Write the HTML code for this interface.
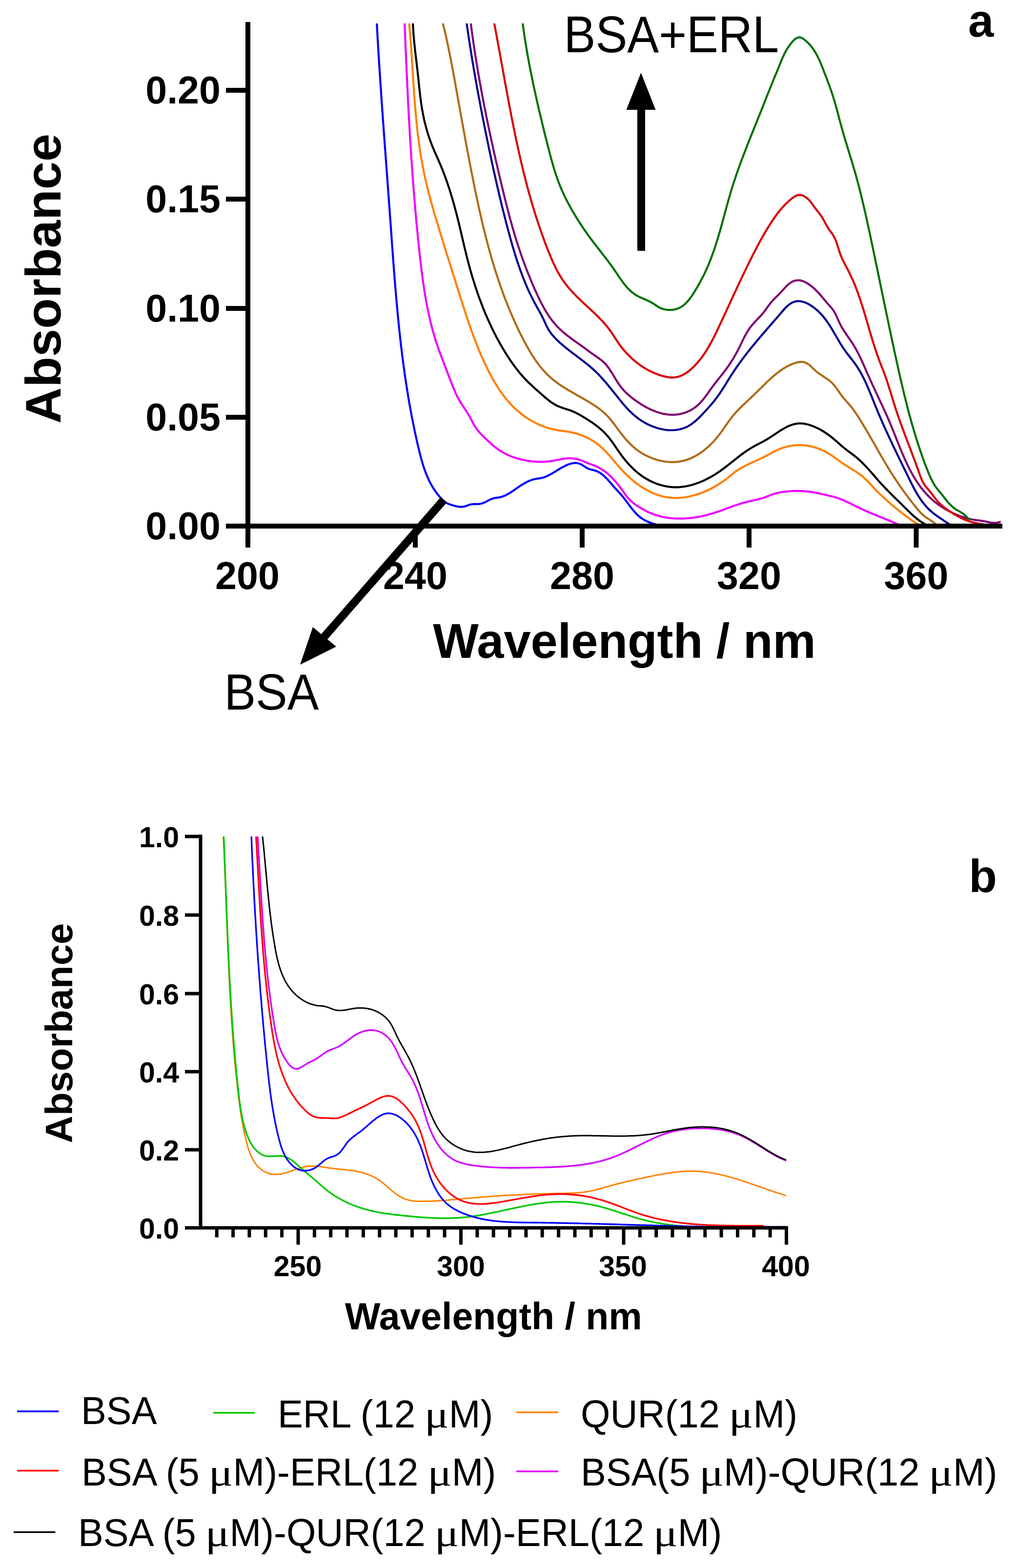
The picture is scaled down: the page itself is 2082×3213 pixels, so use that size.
<!DOCTYPE html>
<html><head><meta charset="utf-8"><title>Absorbance spectra</title>
<style>
html,body{margin:0;padding:0;background:#fff;}
body{width:2082px;height:3213px;overflow:hidden;}
svg{display:block;}
</style></head>
<body>
<svg width="2082" height="3213" viewBox="0 0 2082 3213">
<defs>
<clipPath id="clipa"><rect x="508" y="48" width="1546" height="1032"/></clipPath>
<clipPath id="clipb"><rect x="410" y="1714" width="1204" height="803"/></clipPath>
</defs>
<rect width="2082" height="3213" fill="#fff"/>
<g fill="none" stroke-width="4.2" stroke-linejoin="round" stroke-linecap="butt" clip-path="url(#clipa)">
<path d="M771.9 44.0 L772.2 49.0 L772.5 54.0 L772.8 59.0 L773.0 64.1 L773.3 69.1 L773.6 74.1 L773.9 79.1 L774.2 84.1 L774.5 89.1 L774.8 94.1 L775.1 99.1 L775.4 104.1 L775.7 109.2 L776.0 114.2 L776.3 119.2 L776.6 124.2 L776.9 129.2 L777.3 134.2 L777.6 139.2 L777.9 144.2 L778.2 149.2 L778.6 154.2 L778.9 159.2 L779.2 164.2 L779.6 169.3 L779.9 174.3 L780.2 179.3 L780.6 184.3 L780.9 189.3 L781.2 194.3 L781.6 199.3 L781.9 204.3 L782.3 209.3 L782.6 214.3 L783.0 219.3 L783.3 224.3 L783.7 229.3 L784.0 234.3 L784.4 239.3 L784.7 244.4 L785.1 249.4 L785.5 254.4 L785.8 259.4 L786.2 264.4 L786.5 269.4 L786.9 274.4 L787.3 279.4 L787.6 284.4 L788.0 289.4 L788.4 294.4 L788.7 299.4 L789.1 304.4 L789.5 309.4 L789.8 314.4 L790.2 319.4 L790.6 324.4 L790.9 329.4 L791.3 334.4 L791.7 339.4 L792.0 344.5 L792.4 349.5 L792.8 354.5 L793.2 359.5 L793.5 364.5 L793.9 369.5 L794.3 374.5 L794.6 379.5 L795.0 384.5 L795.4 389.5 L795.7 394.5 L796.1 399.5 L796.5 404.5 L796.8 409.5 L797.2 414.5 L797.6 419.5 L797.9 424.5 L798.3 429.5 L798.7 434.5 L799.0 439.6 L799.4 444.6 L799.7 449.6 L800.1 454.6 L800.5 459.6 L800.8 464.6 L801.2 469.6 L801.5 474.6 L801.9 479.6 L802.3 484.6 L802.6 489.6 L803.0 494.6 L803.3 499.6 L803.7 504.6 L804.1 509.6 L804.4 514.6 L804.8 519.6 L805.2 524.7 L805.5 529.7 L805.9 534.7 L806.3 539.7 L806.7 544.7 L807.0 549.7 L807.4 554.7 L807.8 559.7 L808.2 564.7 L808.6 569.7 L809.0 574.7 L809.4 579.7 L809.8 584.7 L810.2 589.7 L810.6 594.7 L811.1 599.7 L811.5 604.7 L811.9 609.7 L812.4 614.7 L812.8 619.7 L813.3 624.7 L813.7 629.7 L814.2 634.7 L814.7 639.7 L815.1 644.7 L815.6 649.7 L816.1 654.7 L816.6 659.7 L817.1 664.7 L817.6 669.6 L818.1 674.6 L818.7 679.6 L819.2 684.6 L819.7 689.6 L820.3 694.6 L820.9 699.6 L821.4 704.6 L822.0 709.5 L822.6 714.5 L823.2 719.5 L823.8 724.5 L824.4 729.5 L825.1 734.4 L825.7 739.4 L826.4 744.4 L827.0 749.4 L827.7 754.3 L828.4 759.3 L829.1 764.3 L829.8 769.2 L830.5 774.2 L831.3 779.2 L832.0 784.1 L832.8 789.1 L833.5 794.0 L834.3 799.0 L835.1 804.0 L835.9 808.9 L836.7 813.9 L837.6 818.8 L838.4 823.8 L839.3 828.7 L840.2 833.6 L841.1 838.6 L842.0 843.5 L842.9 848.5 L843.8 853.4 L844.8 858.3 L845.8 863.3 L846.8 868.2 L847.8 873.1 L848.8 878.0 L849.8 883.0 L850.8 887.9 L851.9 892.8 L853.0 897.7 L854.1 902.6 L855.2 907.5 L856.3 912.4 L857.5 917.4 L858.7 922.3 L859.9 927.1 L861.1 932.0 L862.4 936.9 L863.7 941.8 L865.1 946.6 L866.5 951.4 L868.0 956.2 L869.6 960.9 L871.3 965.6 L873.0 970.2 L874.9 974.9 L876.9 979.4 L878.9 983.9 L881.2 988.4 L883.5 992.8 L886.0 997.1 L888.6 1001.3 L891.4 1005.5 L894.3 1009.6 L897.4 1013.6 L900.6 1017.6 L904.1 1021.4 L907.7 1025.1 L911.6 1028.4 L915.7 1031.1 L920.2 1033.1 L924.8 1034.5 L929.6 1035.9 L934.4 1037.2 L939.3 1038.3 L944.2 1038.7 L949.0 1038.4 L953.7 1037.4 L958.2 1035.7 L962.8 1034.0 L967.6 1033.2 L972.5 1032.9 L977.5 1032.9 L982.4 1032.6 L987.2 1031.7 L991.9 1030.0 L996.4 1027.8 L1000.9 1025.4 L1005.4 1023.2 L1010.0 1021.4 L1014.9 1020.4 L1019.8 1019.7 L1024.6 1018.9 L1029.4 1017.6 L1033.9 1015.8 L1038.4 1013.7 L1042.8 1011.2 L1047.2 1008.5 L1051.4 1005.7 L1055.7 1002.7 L1060.0 999.8 L1064.2 996.8 L1068.5 994.0 L1072.9 991.3 L1077.3 988.8 L1081.8 986.5 L1086.3 984.6 L1091.0 982.9 L1095.8 981.7 L1100.7 980.8 L1105.7 980.1 L1110.5 979.2 L1115.2 977.8 L1119.8 976.1 L1124.2 974.0 L1128.5 971.7 L1132.8 969.3 L1137.1 966.7 L1141.4 964.0 L1145.7 961.4 L1150.1 958.7 L1154.7 956.3 L1159.3 954.0 L1164.1 951.9 L1169.0 950.2 L1174.0 949.1 L1178.8 948.6 L1183.5 949.0 L1187.9 950.2 L1192.2 952.4 L1196.5 955.0 L1200.7 957.8 L1205.2 960.2 L1210.0 962.0 L1215.1 963.1 L1219.9 964.4 L1224.5 966.2 L1228.8 968.6 L1232.9 971.3 L1236.7 974.4 L1240.4 977.8 L1244.0 981.4 L1247.4 985.1 L1250.7 989.0 L1254.0 992.9 L1257.3 996.7 L1260.6 1000.4 L1264.0 1004.0 L1267.3 1007.6 L1270.6 1011.1 L1273.9 1014.8 L1277.1 1018.7 L1280.2 1022.7 L1283.3 1026.8 L1286.4 1030.9 L1289.4 1035.1 L1292.6 1039.2 L1295.7 1043.3 L1299.0 1047.2 L1302.4 1051.0 L1305.9 1054.6 L1309.5 1057.9 L1313.3 1061.0 L1317.4 1063.7 L1321.6 1066.2 L1325.9 1068.4 L1330.4 1070.3 L1335.0 1072.0 L1339.8 1073.5 L1344.6 1074.8 L1349.6 1075.8 L1354.6 1076.7 L1359.6 1077.4 L1364.7 1078.0 L1369.9 1078.4 L1375.1 1078.8 L1380.2 1079.0 L1385.4 1079.1 L1390.5 1079.2 L1395.6 1079.2 L1400.6 1079.2 L1405.6 1079.1 L1410.5 1079.0 L1415.2 1079.0 L1419.9 1078.9" stroke="#0000ff"/>
<path d="M828.9 44.0 L829.1 49.0 L829.3 54.0 L829.6 59.1 L829.8 64.1 L830.0 69.1 L830.2 74.1 L830.4 79.1 L830.6 84.2 L830.8 89.2 L831.0 94.2 L831.2 99.2 L831.4 104.2 L831.7 109.3 L831.9 114.3 L832.1 119.3 L832.3 124.3 L832.5 129.3 L832.8 134.4 L833.0 139.4 L833.2 144.4 L833.4 149.4 L833.7 154.4 L833.9 159.4 L834.1 164.5 L834.4 169.5 L834.6 174.5 L834.8 179.5 L835.1 184.5 L835.3 189.5 L835.6 194.6 L835.8 199.6 L836.1 204.6 L836.3 209.6 L836.6 214.6 L836.8 219.6 L837.1 224.7 L837.4 229.7 L837.6 234.7 L837.9 239.7 L838.2 244.7 L838.5 249.7 L838.7 254.7 L839.0 259.8 L839.3 264.8 L839.6 269.8 L839.9 274.8 L840.2 279.8 L840.5 284.8 L840.8 289.8 L841.1 294.8 L841.4 299.9 L841.7 304.9 L842.0 309.9 L842.4 314.9 L842.7 319.9 L843.0 324.9 L843.4 329.9 L843.7 334.9 L844.1 339.9 L844.4 345.0 L844.8 350.0 L845.1 355.0 L845.5 360.0 L845.8 365.0 L846.2 370.0 L846.6 375.0 L847.0 380.0 L847.4 385.0 L847.8 390.0 L848.2 395.0 L848.6 400.0 L849.0 405.0 L849.4 410.1 L849.8 415.1 L850.2 420.1 L850.6 425.1 L851.1 430.1 L851.5 435.1 L852.0 440.1 L852.4 445.1 L852.9 450.1 L853.3 455.1 L853.8 460.1 L854.3 465.1 L854.8 470.1 L855.3 475.1 L855.8 480.1 L856.3 485.1 L856.8 490.1 L857.3 495.1 L857.8 500.1 L858.3 505.1 L858.8 510.1 L859.4 515.1 L859.9 520.1 L860.5 525.1 L861.0 530.1 L861.6 535.1 L862.2 540.1 L862.8 545.1 L863.4 550.1 L864.0 555.1 L864.6 560.1 L865.3 565.1 L866.0 570.1 L866.6 575.0 L867.3 580.0 L868.1 585.0 L868.8 589.9 L869.6 594.9 L870.4 599.9 L871.2 604.8 L872.0 609.8 L872.9 614.7 L873.8 619.6 L874.7 624.6 L875.7 629.5 L876.6 634.4 L877.7 639.3 L878.7 644.2 L879.8 649.1 L880.9 654.0 L882.1 658.9 L883.3 663.7 L884.5 668.6 L885.8 673.4 L887.1 678.3 L888.5 683.1 L889.9 687.9 L891.3 692.7 L892.8 697.5 L894.4 702.3 L896.0 707.0 L897.6 711.8 L899.3 716.5 L901.0 721.3 L902.7 726.0 L904.5 730.8 L906.3 735.5 L908.0 740.2 L909.9 744.9 L911.7 749.6 L913.5 754.3 L915.3 759.0 L917.1 763.7 L918.9 768.5 L920.7 773.2 L922.5 777.9 L924.3 782.6 L926.1 787.3 L927.9 791.9 L929.8 796.6 L931.8 801.2 L933.8 805.8 L936.0 810.3 L938.2 814.7 L940.6 819.1 L943.2 823.4 L945.8 827.7 L948.6 831.9 L951.4 836.1 L954.2 840.3 L957.0 844.5 L959.6 848.8 L962.1 853.2 L964.5 857.6 L966.8 862.1 L969.2 866.5 L971.6 870.8 L974.2 875.1 L977.0 879.2 L980.1 883.2 L983.3 887.0 L986.8 890.6 L990.3 894.2 L994.0 897.7 L997.6 901.2 L1001.3 904.6 L1005.0 908.0 L1008.8 911.3 L1012.6 914.6 L1016.5 917.7 L1020.5 920.6 L1024.7 923.4 L1028.9 926.1 L1033.3 928.5 L1037.7 930.8 L1042.3 932.9 L1046.9 934.9 L1051.7 936.7 L1056.5 938.3 L1061.3 939.8 L1066.2 941.1 L1071.1 942.3 L1076.1 943.3 L1081.0 944.2 L1086.0 944.9 L1091.0 945.5 L1096.0 945.9 L1100.9 946.2 L1105.9 946.3 L1110.9 946.3 L1115.8 946.1 L1120.8 945.7 L1125.8 945.3 L1130.7 944.6 L1135.7 943.8 L1140.6 942.8 L1145.6 941.8 L1150.5 940.8 L1155.5 940.0 L1160.4 939.4 L1165.4 939.1 L1170.3 939.1 L1175.1 939.5 L1179.9 940.2 L1184.7 941.3 L1189.4 942.8 L1194.1 944.6 L1198.7 946.5 L1203.4 948.5 L1208.1 950.4 L1212.8 952.1 L1217.5 953.8 L1222.1 955.7 L1226.5 957.9 L1230.8 960.3 L1234.9 962.9 L1239.0 965.7 L1242.9 968.7 L1246.7 971.9 L1250.3 975.2 L1253.9 978.7 L1257.4 982.4 L1260.7 986.1 L1264.0 990.0 L1267.2 993.9 L1270.3 997.9 L1273.4 1002.0 L1276.4 1006.1 L1279.3 1010.2 L1282.2 1014.3 L1285.2 1018.3 L1288.4 1022.1 L1291.8 1025.6 L1295.5 1028.9 L1299.4 1032.0 L1303.5 1034.9 L1307.7 1037.7 L1312.0 1040.4 L1316.3 1042.9 L1320.8 1045.4 L1325.3 1047.8 L1329.8 1049.9 L1334.5 1051.9 L1339.1 1053.7 L1343.9 1055.4 L1348.6 1056.8 L1353.5 1058.1 L1358.3 1059.2 L1363.2 1060.2 L1368.1 1061.0 L1373.1 1061.6 L1378.1 1062.1 L1383.1 1062.5 L1388.1 1062.7 L1393.1 1062.7 L1398.2 1062.7 L1403.2 1062.5 L1408.2 1062.1 L1413.3 1061.7 L1418.3 1061.1 L1423.4 1060.4 L1428.4 1059.6 L1433.4 1058.7 L1438.4 1057.7 L1443.3 1056.6 L1448.3 1055.3 L1453.2 1054.0 L1458.0 1052.7 L1462.9 1051.2 L1467.7 1049.6 L1472.4 1048.0 L1477.1 1046.4 L1481.9 1044.7 L1486.5 1042.9 L1491.2 1041.2 L1495.9 1039.5 L1500.6 1037.8 L1505.3 1036.1 L1510.0 1034.5 L1514.7 1032.9 L1519.5 1031.5 L1524.3 1030.1 L1529.2 1028.8 L1534.1 1027.6 L1539.0 1026.5 L1543.9 1025.4 L1548.8 1024.3 L1553.7 1023.1 L1558.6 1021.8 L1563.4 1020.4 L1568.2 1018.8 L1572.9 1017.0 L1577.5 1015.1 L1582.2 1013.4 L1586.9 1011.7 L1591.7 1010.4 L1596.5 1009.3 L1601.4 1008.5 L1606.4 1007.8 L1611.3 1007.2 L1616.4 1006.8 L1621.4 1006.5 L1626.4 1006.2 L1631.5 1006.1 L1636.5 1006.1 L1641.6 1006.2 L1646.6 1006.4 L1651.7 1006.8 L1656.7 1007.3 L1661.6 1007.9 L1666.6 1008.7 L1671.5 1009.6 L1676.3 1010.6 L1681.2 1011.7 L1686.1 1012.8 L1690.9 1013.9 L1695.8 1015.0 L1700.7 1016.1 L1705.5 1017.2 L1710.4 1018.5 L1715.1 1020.0 L1719.8 1021.7 L1724.4 1023.6 L1729.1 1025.5 L1733.6 1027.6 L1738.2 1029.7 L1742.7 1031.9 L1747.2 1034.1 L1751.8 1036.3 L1756.3 1038.5 L1760.8 1040.7 L1765.4 1042.8 L1770.0 1044.9 L1774.5 1047.0 L1779.1 1049.0 L1783.8 1051.0 L1788.4 1052.9 L1793.0 1054.8 L1797.7 1056.7 L1802.3 1058.6 L1807.0 1060.5 L1811.6 1062.4 L1816.3 1064.3 L1820.9 1066.2 L1825.5 1068.2 L1830.2 1070.1 L1834.8 1072.1 L1839.4 1074.2 L1843.9 1076.3 L1848.5 1078.4" stroke="#ee00ff"/>
<path d="M838.2 44.1 L838.6 49.1 L839.1 54.0 L839.5 59.0 L839.9 64.0 L840.3 69.0 L840.7 74.0 L841.1 78.9 L841.5 83.9 L841.9 88.9 L842.2 93.9 L842.6 98.9 L842.9 103.9 L843.2 108.9 L843.6 113.9 L843.9 119.0 L844.2 124.0 L844.6 129.0 L844.9 134.0 L845.2 139.0 L845.5 144.0 L845.8 149.1 L846.2 154.1 L846.5 159.1 L846.8 164.1 L847.1 169.1 L847.5 174.2 L847.8 179.2 L848.1 184.2 L848.5 189.2 L848.8 194.3 L849.2 199.3 L849.6 204.3 L850.0 209.3 L850.4 214.3 L850.8 219.4 L851.2 224.4 L851.6 229.4 L852.1 234.4 L852.5 239.4 L853.0 244.4 L853.5 249.4 L854.0 254.4 L854.5 259.4 L855.0 264.4 L855.6 269.4 L856.2 274.4 L856.8 279.4 L857.4 284.3 L858.0 289.3 L858.7 294.3 L859.4 299.3 L860.1 304.2 L860.9 309.2 L861.6 314.1 L862.4 319.1 L863.2 324.0 L864.1 329.0 L865.0 333.9 L865.9 338.8 L866.8 343.8 L867.8 348.7 L868.8 353.6 L869.8 358.5 L870.9 363.4 L872.0 368.3 L873.1 373.1 L874.3 378.0 L875.4 382.9 L876.7 387.8 L877.9 392.6 L879.1 397.5 L880.4 402.3 L881.7 407.2 L883.0 412.0 L884.4 416.8 L885.7 421.7 L887.1 426.5 L888.5 431.3 L889.9 436.2 L891.3 441.0 L892.7 445.8 L894.2 450.6 L895.6 455.4 L897.1 460.2 L898.5 465.0 L900.0 469.8 L901.5 474.6 L902.9 479.4 L904.4 484.2 L905.9 489.0 L907.4 493.8 L908.9 498.6 L910.3 503.4 L911.8 508.2 L913.3 513.0 L914.8 517.8 L916.3 522.5 L917.8 527.3 L919.3 532.1 L920.8 536.9 L922.3 541.7 L923.8 546.5 L925.3 551.3 L926.8 556.0 L928.3 560.8 L929.8 565.6 L931.3 570.4 L932.8 575.2 L934.3 580.0 L935.8 584.8 L937.3 589.5 L938.8 594.3 L940.3 599.1 L941.8 603.9 L943.4 608.7 L944.9 613.5 L946.4 618.3 L947.9 623.1 L949.5 627.9 L951.0 632.6 L952.6 637.4 L954.1 642.2 L955.7 647.0 L957.3 651.7 L958.9 656.5 L960.5 661.3 L962.1 666.0 L963.8 670.8 L965.5 675.5 L967.2 680.2 L968.9 684.9 L970.6 689.7 L972.4 694.4 L974.2 699.0 L976.0 703.7 L977.8 708.4 L979.7 713.0 L981.6 717.7 L983.6 722.3 L985.5 726.9 L987.5 731.5 L989.6 736.1 L991.7 740.7 L993.8 745.2 L996.0 749.8 L998.2 754.3 L1000.4 758.8 L1002.7 763.3 L1005.0 767.7 L1007.4 772.2 L1009.9 776.6 L1012.3 780.9 L1014.9 785.3 L1017.5 789.5 L1020.2 793.8 L1022.9 798.0 L1025.8 802.1 L1028.6 806.2 L1031.6 810.2 L1034.7 814.2 L1037.8 818.1 L1041.0 821.9 L1044.3 825.6 L1047.7 829.3 L1051.1 832.9 L1054.7 836.4 L1058.4 839.8 L1062.2 843.2 L1066.0 846.4 L1070.0 849.5 L1074.1 852.6 L1078.3 855.5 L1082.6 858.3 L1086.9 861.0 L1091.3 863.5 L1095.8 865.9 L1100.4 868.2 L1105.0 870.3 L1109.6 872.2 L1114.3 874.0 L1119.0 875.7 L1123.8 877.1 L1128.6 878.5 L1133.4 879.6 L1138.2 880.7 L1143.1 881.6 L1148.0 882.3 L1152.9 883.0 L1157.8 883.7 L1162.8 884.5 L1167.7 885.3 L1172.7 886.2 L1177.6 887.4 L1182.5 888.8 L1187.4 890.3 L1192.3 892.1 L1197.1 894.0 L1201.8 896.2 L1206.4 898.5 L1210.9 900.9 L1215.3 903.6 L1219.5 906.4 L1223.6 909.3 L1227.5 912.4 L1231.3 915.6 L1234.9 919.0 L1238.5 922.4 L1241.9 925.9 L1245.3 929.6 L1248.6 933.2 L1251.8 937.0 L1255.1 940.8 L1258.3 944.6 L1261.5 948.4 L1264.8 952.2 L1268.1 956.0 L1271.4 959.8 L1274.8 963.5 L1278.3 967.2 L1281.9 970.8 L1285.5 974.4 L1289.3 977.9 L1293.1 981.3 L1297.0 984.6 L1300.9 987.8 L1305.0 990.9 L1309.1 993.9 L1313.3 996.8 L1317.5 999.5 L1321.8 1002.1 L1326.2 1004.6 L1330.6 1006.9 L1335.1 1009.1 L1339.7 1011.1 L1344.3 1012.9 L1348.9 1014.5 L1353.6 1016.0 L1358.4 1017.2 L1363.2 1018.3 L1368.0 1019.1 L1372.9 1019.7 L1377.8 1020.1 L1382.8 1020.3 L1387.8 1020.3 L1392.8 1020.0 L1397.8 1019.6 L1402.8 1019.0 L1407.8 1018.2 L1412.8 1017.2 L1417.8 1016.1 L1422.8 1014.7 L1427.7 1013.3 L1432.7 1011.7 L1437.5 1009.9 L1442.4 1008.0 L1447.1 1006.0 L1451.8 1003.8 L1456.5 1001.5 L1461.1 999.2 L1465.6 996.7 L1470.0 994.1 L1474.3 991.4 L1478.5 988.6 L1482.6 985.8 L1486.6 982.9 L1490.5 979.9 L1494.3 976.9 L1497.9 973.8 L1501.6 970.8 L1505.3 967.8 L1509.2 965.0 L1513.2 962.3 L1517.4 959.8 L1521.7 957.4 L1526.1 955.1 L1530.6 952.8 L1535.2 950.7 L1539.8 948.5 L1544.5 946.4 L1549.2 944.3 L1553.9 942.1 L1558.5 939.9 L1563.2 937.7 L1567.8 935.3 L1572.3 932.9 L1576.8 930.5 L1581.3 928.1 L1585.7 925.7 L1590.3 923.5 L1594.8 921.4 L1599.4 919.5 L1604.1 917.8 L1608.9 916.3 L1613.7 915.0 L1618.5 914.0 L1623.4 913.1 L1628.4 912.5 L1633.3 912.2 L1638.3 912.0 L1643.3 912.1 L1648.2 912.5 L1653.2 913.1 L1658.2 913.9 L1663.1 914.9 L1668.0 916.2 L1672.9 917.7 L1677.7 919.4 L1682.4 921.4 L1687.0 923.4 L1691.6 925.7 L1696.0 928.1 L1700.3 930.7 L1704.5 933.4 L1708.6 936.3 L1712.6 939.2 L1716.6 942.1 L1720.6 945.0 L1724.6 947.9 L1728.8 950.7 L1733.0 953.4 L1737.2 956.0 L1741.5 958.7 L1745.8 961.3 L1750.1 964.0 L1754.3 966.7 L1758.5 969.6 L1762.5 972.5 L1766.5 975.5 L1770.3 978.7 L1773.9 982.1 L1777.5 985.6 L1781.0 989.2 L1784.4 992.8 L1787.8 996.5 L1791.3 1000.2 L1794.7 1003.8 L1798.3 1007.4 L1801.8 1010.9 L1805.4 1014.4 L1809.1 1017.9 L1812.8 1021.3 L1816.5 1024.7 L1820.2 1028.0 L1824.0 1031.3 L1827.9 1034.6 L1831.7 1037.8 L1835.6 1041.0 L1839.5 1044.2 L1843.4 1047.3 L1847.4 1050.4 L1851.3 1053.5 L1855.3 1056.5 L1859.3 1059.6 L1863.4 1062.5 L1867.4 1065.5 L1871.5 1068.3 L1875.7 1071.1 L1879.9 1073.6 L1884.4 1075.9 L1889.0 1077.8 L1893.9 1079.3" stroke="#ff8000"/>
<path d="M846.0 44.0 L846.2 49.0 L846.4 54.1 L846.7 59.1 L847.0 64.1 L847.3 69.1 L847.7 74.1 L848.2 79.1 L848.6 84.1 L849.1 89.1 L849.6 94.1 L850.2 99.1 L850.7 104.1 L851.3 109.1 L851.9 114.1 L852.5 119.1 L853.1 124.1 L853.7 129.1 L854.3 134.1 L854.8 139.1 L855.4 144.1 L856.0 149.0 L856.5 154.0 L857.1 159.0 L857.6 164.0 L858.1 169.0 L858.6 174.0 L859.2 179.0 L859.7 184.0 L860.3 189.0 L860.8 194.0 L861.4 199.0 L862.1 204.0 L862.7 209.0 L863.4 213.9 L864.2 218.9 L865.0 223.9 L865.9 228.8 L866.8 233.7 L867.8 238.7 L868.8 243.6 L869.9 248.5 L871.1 253.4 L872.4 258.3 L873.7 263.2 L875.1 268.0 L876.5 272.8 L878.0 277.6 L879.6 282.4 L881.3 287.1 L883.0 291.9 L884.8 296.6 L886.6 301.2 L888.6 305.9 L890.5 310.5 L892.6 315.0 L894.6 319.6 L896.7 324.2 L898.7 328.8 L900.7 333.4 L902.7 338.0 L904.6 342.6 L906.5 347.3 L908.3 351.9 L910.1 356.6 L911.9 361.3 L913.6 366.1 L915.3 370.8 L916.9 375.6 L918.5 380.3 L920.1 385.1 L921.7 389.9 L923.2 394.7 L924.6 399.5 L926.1 404.4 L927.5 409.2 L928.9 414.0 L930.3 418.9 L931.6 423.7 L932.9 428.6 L934.2 433.5 L935.5 438.3 L936.7 443.2 L938.0 448.1 L939.2 452.9 L940.4 457.8 L941.5 462.7 L942.7 467.6 L943.8 472.4 L945.0 477.3 L946.1 482.2 L947.3 487.1 L948.4 491.9 L949.5 496.8 L950.7 501.7 L951.8 506.6 L953.0 511.4 L954.2 516.3 L955.4 521.2 L956.6 526.0 L957.8 530.9 L959.1 535.7 L960.4 540.6 L961.7 545.4 L963.0 550.3 L964.4 555.1 L965.8 560.0 L967.2 564.8 L968.6 569.6 L970.1 574.4 L971.6 579.2 L973.1 584.0 L974.7 588.8 L976.3 593.6 L977.9 598.4 L979.5 603.1 L981.2 607.9 L982.9 612.6 L984.7 617.3 L986.5 622.0 L988.3 626.7 L990.1 631.4 L992.0 636.1 L993.9 640.7 L995.9 645.4 L997.9 650.0 L999.9 654.6 L1002.0 659.2 L1004.1 663.7 L1006.2 668.3 L1008.4 672.8 L1010.6 677.3 L1012.8 681.8 L1015.1 686.3 L1017.4 690.7 L1019.8 695.2 L1022.2 699.6 L1024.6 703.9 L1027.1 708.3 L1029.6 712.6 L1032.2 716.9 L1034.8 721.2 L1037.4 725.5 L1040.1 729.7 L1042.8 733.9 L1045.6 738.1 L1048.5 742.2 L1051.3 746.3 L1054.3 750.3 L1057.3 754.3 L1060.4 758.3 L1063.5 762.2 L1066.7 766.1 L1070.0 769.8 L1073.3 773.6 L1076.7 777.2 L1080.2 780.8 L1083.8 784.4 L1087.5 787.9 L1091.2 791.3 L1094.9 794.7 L1098.7 798.1 L1102.5 801.4 L1106.3 804.8 L1110.1 808.2 L1113.9 811.5 L1117.7 814.9 L1121.6 818.1 L1125.5 821.2 L1129.5 824.2 L1133.6 826.9 L1137.8 829.4 L1142.2 831.7 L1146.7 833.6 L1151.4 835.3 L1156.1 836.9 L1160.9 838.4 L1165.6 840.0 L1170.3 841.6 L1175.0 843.5 L1179.5 845.5 L1183.9 847.8 L1188.3 850.2 L1192.6 852.8 L1197.0 855.4 L1201.3 858.0 L1205.5 860.7 L1209.8 863.5 L1214.0 866.3 L1218.1 869.2 L1222.2 872.2 L1226.1 875.3 L1230.0 878.5 L1233.8 881.8 L1237.4 885.2 L1240.9 888.8 L1244.2 892.4 L1247.5 896.3 L1250.5 900.2 L1253.5 904.3 L1256.4 908.4 L1259.3 912.5 L1262.1 916.7 L1265.0 920.9 L1267.8 925.0 L1270.8 929.1 L1273.7 933.2 L1276.8 937.2 L1279.9 941.2 L1283.1 945.1 L1286.4 948.9 L1289.7 952.6 L1293.2 956.2 L1296.7 959.8 L1300.3 963.2 L1304.1 966.5 L1307.9 969.7 L1311.9 972.8 L1316.0 975.7 L1320.2 978.5 L1324.5 981.1 L1328.9 983.6 L1333.5 986.0 L1338.1 988.1 L1342.8 990.1 L1347.6 991.9 L1352.4 993.5 L1357.3 994.8 L1362.2 996.0 L1367.1 996.9 L1372.1 997.6 L1377.1 998.1 L1382.0 998.3 L1387.0 998.3 L1391.9 998.1 L1396.8 997.7 L1401.8 997.1 L1406.7 996.2 L1411.5 995.2 L1416.4 994.0 L1421.2 992.7 L1426.0 991.1 L1430.7 989.4 L1435.4 987.6 L1440.1 985.6 L1444.7 983.5 L1449.2 981.2 L1453.8 978.9 L1458.2 976.4 L1462.6 973.8 L1466.9 971.1 L1471.2 968.3 L1475.3 965.5 L1479.4 962.5 L1483.5 959.5 L1487.5 956.5 L1491.5 953.4 L1495.4 950.3 L1499.4 947.2 L1503.3 944.1 L1507.2 940.9 L1511.1 937.8 L1515.1 934.8 L1519.1 931.8 L1523.1 928.8 L1527.1 925.9 L1531.2 923.1 L1535.4 920.4 L1539.7 917.8 L1544.0 915.2 L1548.4 912.8 L1552.8 910.5 L1557.3 908.2 L1561.8 905.8 L1566.2 903.4 L1570.7 900.9 L1575.0 898.3 L1579.3 895.5 L1583.5 892.7 L1587.8 889.9 L1592.0 887.0 L1596.2 884.3 L1600.5 881.5 L1604.8 878.9 L1609.2 876.5 L1613.6 874.2 L1618.1 872.2 L1622.8 870.5 L1627.5 869.1 L1632.3 868.2 L1637.2 867.7 L1642.1 867.7 L1647.0 868.1 L1651.9 869.0 L1656.9 870.2 L1661.7 871.7 L1666.5 873.5 L1671.2 875.5 L1675.8 877.6 L1680.3 879.9 L1684.7 882.4 L1689.0 885.1 L1693.2 887.9 L1697.4 890.8 L1701.4 893.8 L1705.4 897.0 L1709.2 900.2 L1713.0 903.4 L1716.8 906.7 L1720.5 910.0 L1724.2 913.3 L1728.0 916.5 L1731.9 919.7 L1735.8 922.7 L1739.9 925.7 L1743.9 928.7 L1747.9 931.7 L1751.9 934.7 L1755.7 937.9 L1759.5 941.2 L1763.2 944.6 L1766.8 948.0 L1770.3 951.6 L1773.8 955.2 L1777.2 958.9 L1780.6 962.7 L1783.9 966.4 L1787.3 970.2 L1790.6 974.0 L1793.9 977.8 L1797.2 981.6 L1800.5 985.4 L1803.9 989.1 L1807.3 992.9 L1810.7 996.5 L1814.2 1000.2 L1817.7 1003.8 L1821.2 1007.4 L1824.7 1011.0 L1828.2 1014.5 L1831.8 1018.1 L1835.3 1021.6 L1838.9 1025.1 L1842.5 1028.6 L1846.1 1032.1 L1849.7 1035.7 L1853.3 1039.2 L1856.9 1042.7 L1860.5 1046.2 L1864.1 1049.7 L1867.7 1053.2 L1871.4 1056.6 L1875.2 1059.9 L1879.0 1063.1 L1883.0 1066.2 L1887.0 1069.0 L1891.3 1071.7 L1895.7 1074.1 L1900.2 1076.2 L1905.0 1078.0" stroke="#000000"/>
<path d="M906.6 44.0 L907.9 48.9 L909.0 53.8 L910.2 58.7 L911.4 63.6 L912.5 68.4 L913.6 73.3 L914.7 78.2 L915.8 83.1 L916.8 88.0 L917.9 92.9 L918.9 97.9 L919.9 102.8 L920.9 107.7 L921.9 112.6 L922.9 117.5 L923.9 122.4 L924.8 127.4 L925.8 132.3 L926.7 137.2 L927.6 142.2 L928.5 147.1 L929.5 152.0 L930.4 157.0 L931.3 161.9 L932.2 166.8 L933.1 171.8 L933.9 176.7 L934.8 181.6 L935.7 186.6 L936.6 191.5 L937.5 196.4 L938.4 201.4 L939.2 206.3 L940.1 211.3 L941.0 216.2 L941.9 221.1 L942.8 226.1 L943.6 231.0 L944.5 235.9 L945.4 240.9 L946.3 245.8 L947.2 250.7 L948.1 255.7 L949.0 260.6 L949.9 265.5 L950.8 270.4 L951.7 275.4 L952.6 280.3 L953.5 285.2 L954.4 290.2 L955.3 295.1 L956.2 300.0 L957.2 305.0 L958.1 309.9 L959.0 314.8 L960.0 319.7 L960.9 324.7 L961.8 329.6 L962.8 334.5 L963.7 339.4 L964.7 344.4 L965.6 349.3 L966.6 354.2 L967.6 359.1 L968.6 364.1 L969.5 369.0 L970.5 373.9 L971.5 378.8 L972.5 383.8 L973.5 388.7 L974.5 393.6 L975.6 398.5 L976.6 403.4 L977.6 408.3 L978.7 413.2 L979.8 418.2 L980.8 423.1 L981.9 428.0 L983.0 432.9 L984.1 437.8 L985.2 442.7 L986.3 447.5 L987.5 452.4 L988.6 457.3 L989.8 462.2 L991.0 467.1 L992.2 472.0 L993.4 476.8 L994.6 481.7 L995.8 486.6 L997.1 491.4 L998.4 496.3 L999.6 501.1 L1000.9 506.0 L1002.3 510.8 L1003.6 515.6 L1004.9 520.4 L1006.3 525.3 L1007.7 530.1 L1009.1 534.9 L1010.6 539.7 L1012.0 544.5 L1013.5 549.3 L1015.0 554.1 L1016.5 558.8 L1018.0 563.6 L1019.6 568.4 L1021.1 573.1 L1022.7 577.9 L1024.4 582.6 L1026.0 587.3 L1027.7 592.1 L1029.4 596.8 L1031.1 601.5 L1032.8 606.2 L1034.6 610.9 L1036.4 615.6 L1038.2 620.2 L1040.1 624.9 L1042.0 629.5 L1043.9 634.2 L1045.8 638.8 L1047.8 643.4 L1049.7 648.1 L1051.8 652.7 L1053.8 657.3 L1055.9 661.8 L1058.0 666.4 L1060.1 671.0 L1062.3 675.5 L1064.5 680.1 L1066.7 684.6 L1069.0 689.1 L1071.3 693.6 L1073.6 698.1 L1076.0 702.6 L1078.4 707.0 L1080.9 711.5 L1083.4 715.9 L1085.9 720.2 L1088.5 724.5 L1091.2 728.8 L1094.0 733.0 L1096.8 737.1 L1099.6 741.2 L1102.6 745.2 L1105.6 749.2 L1108.7 753.1 L1111.9 756.9 L1115.2 760.6 L1118.5 764.2 L1122.0 767.7 L1125.5 771.1 L1129.2 774.4 L1133.0 777.7 L1136.8 780.8 L1140.8 783.8 L1144.8 786.7 L1149.0 789.5 L1153.1 792.3 L1157.4 794.9 L1161.7 797.6 L1166.0 800.2 L1170.4 802.7 L1174.8 805.3 L1179.2 807.8 L1183.7 810.3 L1188.1 812.8 L1192.5 815.3 L1196.9 817.8 L1201.3 820.3 L1205.6 822.9 L1209.9 825.5 L1214.2 828.2 L1218.3 830.9 L1222.5 833.7 L1226.5 836.6 L1230.4 839.6 L1234.3 842.7 L1238.0 845.9 L1241.6 849.3 L1245.1 852.9 L1248.5 856.6 L1251.7 860.4 L1254.9 864.4 L1258.0 868.4 L1261.1 872.5 L1264.1 876.6 L1267.1 880.7 L1270.2 884.7 L1273.2 888.7 L1276.3 892.6 L1279.5 896.5 L1282.7 900.3 L1286.0 904.0 L1289.3 907.6 L1292.8 911.1 L1296.4 914.5 L1300.1 917.7 L1304.0 920.9 L1308.0 923.8 L1312.2 926.7 L1316.5 929.3 L1320.9 931.8 L1325.5 934.2 L1330.1 936.4 L1334.9 938.3 L1339.7 940.1 L1344.6 941.7 L1349.5 943.1 L1354.5 944.3 L1359.5 945.3 L1364.5 946.0 L1369.6 946.5 L1374.6 946.8 L1379.6 946.8 L1384.6 946.6 L1389.5 946.2 L1394.4 945.4 L1399.3 944.4 L1404.0 943.2 L1408.7 941.7 L1413.3 940.0 L1417.8 938.0 L1422.3 935.8 L1426.7 933.5 L1431.0 930.9 L1435.2 928.2 L1439.3 925.3 L1443.3 922.2 L1447.3 919.0 L1451.1 915.6 L1454.8 912.2 L1458.5 908.6 L1462.0 904.9 L1465.4 901.1 L1468.7 897.3 L1471.9 893.3 L1475.0 889.3 L1478.0 885.3 L1480.9 881.2 L1483.7 877.1 L1486.6 873.0 L1489.4 869.0 L1492.2 864.9 L1495.1 860.9 L1498.1 856.9 L1501.2 852.9 L1504.4 849.1 L1507.7 845.3 L1511.2 841.6 L1514.7 838.0 L1518.3 834.4 L1522.0 830.8 L1525.6 827.3 L1529.3 823.9 L1532.9 820.4 L1536.5 817.0 L1540.1 813.6 L1543.6 810.2 L1547.2 806.8 L1550.7 803.4 L1554.2 799.9 L1557.8 796.5 L1561.4 793.0 L1565.0 789.4 L1568.6 785.9 L1572.3 782.3 L1576.0 778.8 L1579.8 775.4 L1583.6 771.9 L1587.4 768.6 L1591.4 765.4 L1595.4 762.3 L1599.5 759.3 L1603.6 756.4 L1607.9 753.8 L1612.2 751.3 L1616.6 749.0 L1621.1 747.0 L1625.8 745.1 L1630.5 743.6 L1635.3 742.3 L1640.2 741.6 L1644.9 741.6 L1649.5 742.5 L1653.8 744.6 L1657.8 747.4 L1661.8 750.7 L1665.7 754.4 L1669.6 758.2 L1673.6 761.8 L1677.8 765.1 L1682.0 768.0 L1686.3 770.8 L1690.5 773.5 L1694.6 776.2 L1698.6 779.1 L1702.4 782.1 L1705.9 785.5 L1709.1 789.2 L1712.2 793.1 L1715.2 797.1 L1718.1 801.3 L1721.0 805.5 L1723.9 809.6 L1727.0 813.6 L1730.3 817.4 L1733.5 821.2 L1736.9 825.0 L1740.2 828.8 L1743.4 832.6 L1746.5 836.5 L1749.5 840.5 L1752.4 844.6 L1755.2 848.8 L1757.9 853.0 L1760.6 857.2 L1763.3 861.5 L1765.9 865.8 L1768.6 870.1 L1771.1 874.4 L1773.7 878.7 L1776.3 883.0 L1778.8 887.3 L1781.3 891.7 L1783.8 896.0 L1786.3 900.4 L1788.8 904.7 L1791.3 909.1 L1793.8 913.4 L1796.3 917.8 L1798.7 922.2 L1801.2 926.5 L1803.7 930.9 L1806.2 935.2 L1808.8 939.5 L1811.3 943.9 L1813.8 948.2 L1816.4 952.5 L1819.0 956.8 L1821.6 961.0 L1824.2 965.3 L1826.9 969.6 L1829.6 973.8 L1832.3 978.0 L1835.1 982.2 L1837.8 986.4 L1840.6 990.5 L1843.5 994.6 L1846.4 998.8 L1849.3 1002.9 L1852.2 1006.9 L1855.1 1011.0 L1858.1 1015.0 L1861.1 1019.1 L1864.2 1023.1 L1867.2 1027.1 L1870.3 1031.0 L1873.4 1035.0 L1876.5 1038.9 L1879.7 1042.8 L1882.9 1046.6 L1886.3 1050.3 L1889.8 1053.8 L1893.5 1057.1 L1897.5 1060.1 L1901.6 1062.8 L1905.9 1065.5 L1910.0 1068.3 L1914.0 1071.2 L1917.8 1074.2 L1921.7 1077.0 L1925.8 1079.1 L1930.6 1080.0 L1936.2 1079.4" stroke="#b06a16"/>
<path d="M955.8 44.0 L956.5 49.0 L957.2 54.0 L957.9 58.9 L958.6 63.9 L959.4 68.8 L960.1 73.8 L960.8 78.7 L961.6 83.7 L962.4 88.6 L963.1 93.6 L963.9 98.5 L964.7 103.5 L965.5 108.4 L966.3 113.4 L967.1 118.3 L967.9 123.3 L968.7 128.2 L969.6 133.2 L970.4 138.1 L971.2 143.1 L972.1 148.0 L973.0 152.9 L973.8 157.9 L974.7 162.8 L975.6 167.8 L976.4 172.7 L977.3 177.6 L978.2 182.6 L979.1 187.5 L980.0 192.4 L980.9 197.4 L981.9 202.3 L982.8 207.2 L983.7 212.1 L984.6 217.1 L985.6 222.0 L986.5 226.9 L987.5 231.8 L988.4 236.8 L989.4 241.7 L990.4 246.6 L991.3 251.5 L992.3 256.4 L993.3 261.4 L994.3 266.3 L995.3 271.2 L996.3 276.1 L997.3 281.0 L998.3 285.9 L999.3 290.8 L1000.3 295.7 L1001.3 300.7 L1002.3 305.6 L1003.4 310.5 L1004.4 315.4 L1005.4 320.3 L1006.5 325.2 L1007.5 330.1 L1008.6 335.0 L1009.7 339.9 L1010.7 344.8 L1011.8 349.7 L1012.9 354.6 L1014.0 359.4 L1015.1 364.3 L1016.2 369.2 L1017.3 374.1 L1018.4 379.0 L1019.5 383.9 L1020.7 388.8 L1021.8 393.6 L1022.9 398.5 L1024.1 403.4 L1025.3 408.3 L1026.4 413.1 L1027.6 418.0 L1028.8 422.9 L1030.0 427.7 L1031.2 432.6 L1032.5 437.5 L1033.7 442.3 L1034.9 447.2 L1036.2 452.0 L1037.4 456.9 L1038.7 461.8 L1040.0 466.6 L1041.3 471.5 L1042.6 476.3 L1043.9 481.1 L1045.2 486.0 L1046.6 490.8 L1047.9 495.7 L1049.3 500.5 L1050.7 505.3 L1052.1 510.1 L1053.6 514.9 L1055.0 519.7 L1056.5 524.5 L1058.0 529.3 L1059.6 534.1 L1061.2 538.8 L1062.8 543.6 L1064.4 548.3 L1066.1 553.0 L1067.8 557.8 L1069.5 562.5 L1071.3 567.1 L1073.1 571.8 L1075.0 576.4 L1076.9 581.1 L1078.8 585.7 L1080.8 590.3 L1082.9 594.8 L1085.0 599.4 L1087.1 603.9 L1089.3 608.4 L1091.6 612.9 L1093.9 617.4 L1096.3 621.8 L1098.7 626.2 L1101.2 630.6 L1103.6 635.0 L1106.1 639.4 L1108.5 643.8 L1110.8 648.2 L1113.0 652.7 L1115.1 657.2 L1117.2 661.8 L1119.3 666.3 L1121.4 670.7 L1123.8 675.1 L1126.5 679.2 L1129.4 683.3 L1132.5 687.2 L1135.8 690.9 L1139.3 694.6 L1142.9 698.1 L1146.6 701.6 L1150.4 704.9 L1154.2 708.2 L1158.1 711.4 L1162.0 714.6 L1166.0 717.7 L1170.0 720.8 L1174.0 723.9 L1178.0 726.9 L1182.0 729.9 L1186.0 732.9 L1190.0 735.9 L1194.0 739.0 L1198.0 742.1 L1201.9 745.2 L1205.8 748.3 L1209.6 751.5 L1213.4 754.8 L1217.1 758.1 L1220.8 761.5 L1224.3 765.1 L1227.8 768.6 L1231.2 772.3 L1234.6 776.0 L1237.9 779.8 L1241.2 783.6 L1244.4 787.4 L1247.6 791.3 L1250.8 795.2 L1254.0 799.1 L1257.1 803.0 L1260.2 806.9 L1263.4 810.9 L1266.5 814.8 L1269.6 818.6 L1272.7 822.5 L1275.9 826.3 L1279.1 830.1 L1282.4 833.8 L1285.7 837.5 L1289.1 841.0 L1292.6 844.5 L1296.2 847.9 L1299.9 851.2 L1303.8 854.4 L1307.8 857.5 L1312.0 860.4 L1316.3 863.2 L1320.7 865.8 L1325.3 868.3 L1329.9 870.6 L1334.6 872.7 L1339.4 874.6 L1344.3 876.3 L1349.2 877.8 L1354.2 879.0 L1359.2 880.0 L1364.1 880.8 L1369.1 881.3 L1374.1 881.5 L1379.0 881.5 L1383.9 881.2 L1388.7 880.5 L1393.5 879.6 L1398.2 878.3 L1402.8 876.7 L1407.3 874.8 L1411.6 872.5 L1415.9 869.8 L1420.0 866.9 L1424.0 863.7 L1427.9 860.2 L1431.7 856.7 L1435.4 853.0 L1439.1 849.2 L1442.6 845.4 L1446.1 841.6 L1449.5 837.9 L1452.9 834.1 L1456.2 830.4 L1459.4 826.6 L1462.5 822.8 L1465.6 818.9 L1468.6 815.0 L1471.5 811.1 L1474.4 807.0 L1477.1 802.9 L1479.9 798.7 L1482.6 794.5 L1485.2 790.3 L1487.9 786.0 L1490.5 781.7 L1493.2 777.4 L1495.8 773.1 L1498.5 768.9 L1501.3 764.6 L1504.0 760.4 L1506.9 756.2 L1509.7 752.1 L1512.6 748.0 L1515.5 743.9 L1518.5 739.8 L1521.5 735.8 L1524.5 731.7 L1527.6 727.8 L1530.6 723.8 L1533.7 719.8 L1536.9 715.9 L1540.0 712.0 L1543.2 708.1 L1546.3 704.3 L1549.5 700.4 L1552.7 696.6 L1555.9 692.8 L1559.1 689.1 L1562.3 685.3 L1565.5 681.6 L1568.8 677.8 L1572.0 674.1 L1575.2 670.4 L1578.5 666.7 L1581.7 662.9 L1585.0 659.1 L1588.3 655.3 L1591.7 651.5 L1595.1 647.5 L1598.5 643.6 L1601.9 639.5 L1605.4 635.5 L1609.0 631.5 L1612.7 627.8 L1616.6 624.5 L1620.6 621.6 L1624.8 619.4 L1629.2 617.8 L1633.8 617.1 L1638.6 617.2 L1643.5 617.9 L1648.3 619.3 L1653.1 621.2 L1657.8 623.6 L1662.3 626.4 L1666.7 629.4 L1670.8 632.6 L1674.7 635.9 L1678.4 639.4 L1682.0 643.0 L1685.3 646.7 L1688.5 650.6 L1691.6 654.5 L1694.5 658.5 L1697.3 662.6 L1700.1 666.7 L1702.7 670.9 L1705.3 675.2 L1707.8 679.5 L1710.4 683.8 L1712.9 688.1 L1715.4 692.5 L1717.9 696.8 L1720.4 701.1 L1723.0 705.3 L1725.7 709.6 L1728.4 713.8 L1731.3 717.9 L1734.2 722.0 L1737.2 725.9 L1740.3 729.9 L1743.4 733.9 L1746.5 737.8 L1749.6 741.8 L1752.5 745.8 L1755.4 750.0 L1758.1 754.2 L1760.7 758.4 L1763.3 762.7 L1765.7 767.1 L1768.0 771.5 L1770.3 776.0 L1772.5 780.5 L1774.6 785.1 L1776.6 789.7 L1778.6 794.3 L1780.6 798.9 L1782.5 803.5 L1784.4 808.1 L1786.3 812.8 L1788.2 817.4 L1790.1 822.1 L1791.9 826.7 L1793.8 831.4 L1795.7 836.0 L1797.6 840.7 L1799.5 845.3 L1801.4 849.9 L1803.4 854.5 L1805.4 859.1 L1807.4 863.7 L1809.4 868.3 L1811.5 872.8 L1813.5 877.4 L1815.6 882.0 L1817.7 886.5 L1819.8 891.1 L1821.9 895.6 L1824.0 900.2 L1826.1 904.7 L1828.3 909.3 L1830.4 913.8 L1832.6 918.3 L1834.8 922.8 L1836.9 927.4 L1839.1 931.9 L1841.3 936.4 L1843.5 940.9 L1845.7 945.4 L1847.9 949.9 L1850.1 954.5 L1852.3 959.0 L1854.5 963.5 L1856.7 968.0 L1858.9 972.5 L1861.1 977.1 L1863.3 981.6 L1865.6 986.1 L1867.8 990.6 L1870.1 995.1 L1872.4 999.5 L1874.7 1003.9 L1877.2 1008.3 L1879.7 1012.6 L1882.3 1016.8 L1885.0 1021.0 L1887.8 1025.0 L1890.7 1029.0 L1893.8 1032.9 L1897.0 1036.7 L1900.3 1040.4 L1903.8 1043.9 L1907.5 1047.4 L1911.4 1050.7 L1915.4 1053.8 L1919.6 1056.9 L1923.8 1059.8 L1928.1 1062.7 L1932.3 1065.6 L1936.4 1068.5 L1940.6 1071.3 L1944.7 1073.8 L1949.0 1076.0 L1953.5 1077.7 L1958.3 1078.8 L1963.4 1079.1 L1969.0 1078.5" stroke="#00008f"/>
<path d="M964.2 44.0 L964.9 49.0 L965.5 54.0 L966.2 58.9 L966.8 63.9 L967.5 68.9 L968.2 73.8 L968.9 78.8 L969.6 83.8 L970.3 88.7 L971.1 93.7 L971.8 98.6 L972.5 103.6 L973.3 108.6 L974.1 113.5 L974.9 118.5 L975.7 123.4 L976.5 128.3 L977.3 133.3 L978.1 138.2 L978.9 143.2 L979.8 148.1 L980.6 153.1 L981.5 158.0 L982.3 162.9 L983.2 167.9 L984.1 172.8 L985.0 177.7 L985.9 182.7 L986.8 187.6 L987.7 192.5 L988.6 197.4 L989.6 202.4 L990.5 207.3 L991.5 212.2 L992.4 217.1 L993.4 222.0 L994.4 227.0 L995.3 231.9 L996.3 236.8 L997.3 241.7 L998.3 246.6 L999.4 251.5 L1000.4 256.4 L1001.4 261.3 L1002.4 266.2 L1003.5 271.1 L1004.5 276.0 L1005.6 280.9 L1006.6 285.8 L1007.7 290.7 L1008.8 295.6 L1009.8 300.5 L1010.9 305.4 L1012.0 310.3 L1013.1 315.2 L1014.2 320.1 L1015.3 325.0 L1016.4 329.9 L1017.6 334.8 L1018.7 339.6 L1019.8 344.5 L1020.9 349.4 L1022.1 354.3 L1023.2 359.2 L1024.4 364.1 L1025.5 368.9 L1026.7 373.8 L1027.9 378.7 L1029.0 383.6 L1030.2 388.4 L1031.4 393.3 L1032.6 398.2 L1033.7 403.0 L1034.9 407.9 L1036.2 412.8 L1037.4 417.6 L1038.6 422.5 L1039.8 427.4 L1041.1 432.2 L1042.4 437.1 L1043.6 441.9 L1044.9 446.7 L1046.2 451.6 L1047.6 456.4 L1048.9 461.2 L1050.3 466.0 L1051.7 470.8 L1053.1 475.6 L1054.5 480.4 L1055.9 485.2 L1057.4 490.0 L1058.9 494.8 L1060.4 499.6 L1062.0 504.3 L1063.6 509.1 L1065.2 513.8 L1066.8 518.6 L1068.4 523.3 L1070.1 528.0 L1071.8 532.7 L1073.5 537.4 L1075.2 542.1 L1077.0 546.8 L1078.8 551.5 L1080.6 556.2 L1082.5 560.9 L1084.4 565.5 L1086.3 570.2 L1088.2 574.8 L1090.1 579.5 L1092.1 584.1 L1094.1 588.7 L1096.1 593.3 L1098.2 597.9 L1100.3 602.5 L1102.4 607.1 L1104.6 611.7 L1106.8 616.2 L1109.0 620.7 L1111.4 625.1 L1113.8 629.5 L1116.2 633.9 L1118.8 638.2 L1121.4 642.4 L1124.1 646.6 L1126.9 650.7 L1129.9 654.7 L1132.9 658.6 L1136.0 662.4 L1139.3 666.2 L1142.6 669.8 L1146.2 673.3 L1149.8 676.8 L1153.5 680.1 L1157.4 683.4 L1161.3 686.5 L1165.3 689.6 L1169.4 692.7 L1173.5 695.7 L1177.6 698.7 L1181.7 701.6 L1185.9 704.5 L1190.0 707.5 L1194.1 710.4 L1198.1 713.3 L1202.1 716.3 L1206.1 719.2 L1210.1 722.2 L1214.1 725.1 L1218.2 728.0 L1222.3 730.8 L1226.4 733.7 L1230.4 736.6 L1234.3 739.7 L1237.9 743.0 L1241.3 746.6 L1244.5 750.4 L1247.5 754.3 L1250.3 758.5 L1253.0 762.7 L1255.7 767.0 L1258.3 771.3 L1260.9 775.7 L1263.5 780.0 L1266.3 784.3 L1269.1 788.5 L1272.1 792.5 L1275.2 796.4 L1278.5 800.1 L1282.0 803.7 L1285.6 807.1 L1289.3 810.4 L1293.2 813.7 L1297.1 816.8 L1301.2 819.8 L1305.3 822.7 L1309.5 825.6 L1313.8 828.4 L1318.2 831.0 L1322.7 833.6 L1327.2 836.0 L1331.7 838.3 L1336.3 840.4 L1341.0 842.3 L1345.7 844.1 L1350.4 845.6 L1355.2 847.0 L1360.1 848.1 L1364.9 848.9 L1369.8 849.5 L1374.7 849.9 L1379.6 849.9 L1384.5 849.7 L1389.5 849.1 L1394.4 848.2 L1399.3 846.9 L1404.2 845.4 L1409.0 843.5 L1413.7 841.3 L1418.2 838.9 L1422.6 836.1 L1426.6 833.1 L1430.4 829.8 L1434.0 826.4 L1437.4 822.7 L1440.6 818.9 L1443.7 815.0 L1446.7 811.0 L1449.7 806.9 L1452.6 802.8 L1455.5 798.7 L1458.5 794.6 L1461.5 790.6 L1464.5 786.6 L1467.6 782.6 L1470.7 778.7 L1473.8 774.8 L1476.9 770.8 L1480.0 766.9 L1483.1 762.9 L1486.1 758.9 L1489.0 754.9 L1492.0 750.8 L1494.8 746.7 L1497.6 742.5 L1500.3 738.3 L1503.0 734.0 L1505.5 729.7 L1508.0 725.3 L1510.4 720.9 L1512.7 716.4 L1515.0 711.9 L1517.2 707.4 L1519.4 702.8 L1521.6 698.3 L1523.8 693.8 L1526.1 689.3 L1528.5 684.9 L1531.0 680.6 L1533.6 676.4 L1536.4 672.3 L1539.4 668.3 L1542.6 664.5 L1546.0 660.7 L1549.4 657.1 L1552.9 653.4 L1556.3 649.8 L1559.7 646.1 L1563.0 642.3 L1566.2 638.4 L1569.2 634.3 L1572.1 630.2 L1575.0 626.2 L1578.0 622.2 L1581.1 618.4 L1584.4 614.8 L1587.9 611.2 L1591.4 607.7 L1595.0 604.2 L1598.6 600.6 L1602.1 596.7 L1605.6 592.8 L1609.2 588.9 L1612.8 585.2 L1616.6 581.8 L1620.6 578.9 L1624.8 576.6 L1629.3 575.0 L1634.0 574.3 L1638.7 574.4 L1643.5 575.4 L1648.2 577.2 L1652.8 579.6 L1657.3 582.4 L1661.5 585.5 L1665.6 588.7 L1669.4 592.1 L1673.0 595.7 L1676.5 599.3 L1679.8 603.0 L1683.1 606.7 L1686.3 610.5 L1689.5 614.3 L1692.7 618.1 L1695.8 621.8 L1699.0 625.5 L1702.2 629.0 L1705.3 632.6 L1708.1 636.5 L1710.6 640.6 L1712.8 645.0 L1714.9 649.4 L1716.9 654.0 L1719.0 658.6 L1721.1 663.1 L1723.4 667.6 L1725.8 671.9 L1728.4 676.2 L1731.1 680.4 L1733.9 684.5 L1736.7 688.6 L1739.6 692.7 L1742.4 696.9 L1745.2 701.0 L1747.9 705.2 L1750.6 709.5 L1753.1 713.8 L1755.6 718.2 L1757.9 722.6 L1760.2 727.1 L1762.4 731.7 L1764.6 736.2 L1766.7 740.8 L1768.8 745.4 L1770.8 750.1 L1772.9 754.7 L1774.9 759.3 L1776.9 764.0 L1779.0 768.6 L1781.0 773.2 L1783.1 777.7 L1785.1 782.3 L1787.2 786.8 L1789.3 791.3 L1791.4 795.8 L1793.5 800.3 L1795.6 804.8 L1797.7 809.3 L1799.8 813.8 L1801.9 818.3 L1804.0 822.8 L1806.1 827.3 L1808.2 831.8 L1810.3 836.3 L1812.4 840.8 L1814.4 845.3 L1816.5 849.9 L1818.5 854.4 L1820.5 859.0 L1822.5 863.6 L1824.4 868.2 L1826.4 872.9 L1828.3 877.6 L1830.2 882.3 L1832.1 887.0 L1834.0 891.7 L1835.8 896.4 L1837.7 901.1 L1839.6 905.9 L1841.5 910.6 L1843.4 915.3 L1845.3 920.0 L1847.2 924.7 L1849.2 929.4 L1851.2 934.1 L1853.2 938.7 L1855.3 943.4 L1857.4 947.9 L1859.6 952.5 L1861.8 957.0 L1864.0 961.5 L1866.4 965.9 L1868.7 970.3 L1871.2 974.6 L1873.7 978.9 L1876.3 983.1 L1879.0 987.2 L1881.7 991.3 L1884.6 995.3 L1887.5 999.3 L1890.6 1003.1 L1893.7 1006.9 L1896.9 1010.6 L1900.3 1014.2 L1903.7 1017.8 L1907.3 1021.2 L1911.0 1024.5 L1914.8 1027.8 L1918.8 1030.9 L1922.9 1033.9 L1927.1 1036.8 L1931.4 1039.6 L1935.8 1042.3 L1940.3 1044.8 L1944.8 1047.3 L1949.4 1049.6 L1954.0 1051.8 L1958.7 1053.9 L1963.3 1055.8 L1968.0 1057.6 L1972.6 1059.3 L1977.2 1060.8 L1981.9 1062.2 L1986.6 1063.4 L1991.3 1064.3 L1996.2 1065.1 L2001.1 1065.8 L2006.1 1066.4 L2011.0 1067.1 L2015.9 1067.9 L2020.7 1068.9 L2025.6 1069.9 L2030.4 1070.8 L2035.3 1071.4 L2040.2 1071.4 L2045.4 1070.7 L2050.7 1069.0" stroke="#800070"/>
<path d="M1012.1 44.1 L1013.0 49.0 L1014.0 53.9 L1014.9 58.8 L1015.8 63.7 L1016.8 68.7 L1017.7 73.6 L1018.6 78.5 L1019.5 83.4 L1020.4 88.3 L1021.3 93.3 L1022.2 98.2 L1023.1 103.1 L1024.0 108.1 L1024.9 113.0 L1025.8 117.9 L1026.7 122.9 L1027.6 127.8 L1028.5 132.7 L1029.4 137.7 L1030.3 142.6 L1031.2 147.5 L1032.1 152.5 L1033.0 157.4 L1033.8 162.4 L1034.7 167.3 L1035.6 172.2 L1036.5 177.2 L1037.5 182.1 L1038.4 187.1 L1039.3 192.0 L1040.2 196.9 L1041.1 201.9 L1042.0 206.8 L1043.0 211.7 L1043.9 216.7 L1044.8 221.6 L1045.8 226.5 L1046.7 231.5 L1047.7 236.4 L1048.6 241.3 L1049.6 246.3 L1050.6 251.2 L1051.6 256.1 L1052.6 261.0 L1053.6 266.0 L1054.6 270.9 L1055.6 275.8 L1056.6 280.7 L1057.6 285.6 L1058.7 290.5 L1059.7 295.4 L1060.8 300.3 L1061.9 305.2 L1063.0 310.1 L1064.1 315.0 L1065.2 319.9 L1066.3 324.8 L1067.4 329.7 L1068.6 334.6 L1069.7 339.4 L1070.9 344.3 L1072.1 349.2 L1073.3 354.1 L1074.5 358.9 L1075.7 363.8 L1076.9 368.6 L1078.2 373.5 L1079.5 378.3 L1080.7 383.2 L1082.0 388.0 L1083.4 392.8 L1084.7 397.6 L1086.1 402.5 L1087.4 407.3 L1088.8 412.1 L1090.2 416.9 L1091.6 421.7 L1093.1 426.5 L1094.5 431.3 L1096.0 436.1 L1097.5 440.8 L1099.0 445.6 L1100.6 450.4 L1102.1 455.1 L1103.7 459.9 L1105.3 464.6 L1106.9 469.4 L1108.6 474.1 L1110.2 478.8 L1111.9 483.6 L1113.6 488.3 L1115.4 493.0 L1117.1 497.7 L1118.9 502.4 L1120.7 507.1 L1122.6 511.8 L1124.5 516.5 L1126.4 521.1 L1128.3 525.8 L1130.3 530.4 L1132.3 535.1 L1134.3 539.7 L1136.5 544.2 L1138.7 548.7 L1141.0 553.2 L1143.3 557.6 L1145.8 562.0 L1148.3 566.3 L1151.0 570.5 L1153.8 574.6 L1156.6 578.7 L1159.6 582.6 L1162.7 586.5 L1165.9 590.4 L1169.2 594.1 L1172.6 597.8 L1176.0 601.5 L1179.5 605.1 L1183.0 608.7 L1186.6 612.2 L1190.3 615.7 L1193.9 619.2 L1197.6 622.6 L1201.3 626.1 L1205.0 629.5 L1208.7 632.9 L1212.4 636.4 L1216.0 639.8 L1219.7 643.3 L1223.3 646.7 L1226.8 650.2 L1230.3 653.8 L1233.8 657.4 L1237.1 661.0 L1240.4 664.8 L1243.6 668.6 L1246.7 672.4 L1249.6 676.4 L1252.5 680.5 L1255.3 684.6 L1258.0 688.8 L1260.7 693.0 L1263.5 697.2 L1266.2 701.4 L1269.1 705.5 L1272.1 709.6 L1275.2 713.5 L1278.5 717.5 L1281.8 721.3 L1285.2 725.0 L1288.8 728.6 L1292.4 732.2 L1296.1 735.6 L1299.9 738.9 L1303.8 742.1 L1307.8 745.2 L1311.9 748.2 L1316.0 751.0 L1320.2 753.7 L1324.5 756.3 L1328.8 758.7 L1333.2 760.9 L1337.7 763.0 L1342.2 765.0 L1346.8 766.8 L1351.5 768.4 L1356.3 769.9 L1361.3 771.2 L1366.3 772.4 L1371.4 773.2 L1376.5 773.6 L1381.4 773.5 L1386.3 772.8 L1390.9 771.6 L1395.5 769.9 L1400.0 767.9 L1404.3 765.5 L1408.4 762.7 L1412.5 759.6 L1416.4 756.3 L1420.2 752.8 L1423.8 749.1 L1427.4 745.3 L1430.7 741.4 L1434.0 737.5 L1437.1 733.5 L1440.1 729.4 L1443.0 725.2 L1445.8 721.1 L1448.4 716.8 L1451.0 712.6 L1453.6 708.3 L1456.0 703.9 L1458.4 699.5 L1460.7 695.1 L1463.0 690.7 L1465.2 686.3 L1467.4 681.8 L1469.6 677.3 L1471.7 672.8 L1473.8 668.3 L1476.0 663.7 L1478.1 659.2 L1480.2 654.7 L1482.3 650.2 L1484.4 645.6 L1486.5 641.1 L1488.6 636.5 L1490.7 632.0 L1492.8 627.4 L1494.9 622.9 L1497.0 618.3 L1499.1 613.7 L1501.2 609.2 L1503.3 604.6 L1505.5 600.1 L1507.6 595.5 L1509.7 591.0 L1511.8 586.4 L1513.9 581.8 L1516.1 577.3 L1518.2 572.8 L1520.4 568.2 L1522.5 563.7 L1524.7 559.1 L1526.9 554.6 L1529.1 550.1 L1531.2 545.6 L1533.5 541.1 L1535.7 536.6 L1537.9 532.1 L1540.2 527.6 L1542.4 523.1 L1544.7 518.6 L1547.0 514.2 L1549.3 509.7 L1551.6 505.3 L1554.0 500.9 L1556.4 496.5 L1558.8 492.1 L1561.2 487.7 L1563.7 483.4 L1566.2 479.0 L1568.7 474.7 L1571.3 470.4 L1573.9 466.2 L1576.6 461.9 L1579.3 457.7 L1582.0 453.5 L1584.8 449.3 L1587.6 445.2 L1590.6 441.1 L1593.6 437.1 L1596.7 433.1 L1599.9 429.2 L1603.1 425.4 L1606.6 421.7 L1610.1 418.0 L1613.8 414.5 L1617.6 411.0 L1621.5 407.6 L1625.6 404.5 L1629.9 401.8 L1634.3 399.9 L1638.8 399.3 L1643.3 400.1 L1647.8 401.9 L1652.1 404.7 L1656.1 408.1 L1659.7 411.9 L1662.9 416.0 L1666.0 420.2 L1669.0 424.5 L1672.0 428.5 L1675.1 432.4 L1678.2 436.3 L1681.2 440.1 L1684.0 444.2 L1686.5 448.4 L1688.9 452.8 L1691.2 457.2 L1693.6 461.6 L1696.1 466.0 L1698.8 470.2 L1701.7 474.2 L1704.7 478.1 L1707.4 482.2 L1709.8 486.5 L1711.9 490.9 L1713.7 495.6 L1715.3 500.3 L1716.8 505.1 L1718.3 509.9 L1719.8 514.7 L1721.5 519.5 L1723.3 524.2 L1725.3 528.8 L1727.4 533.4 L1729.7 537.9 L1731.9 542.4 L1734.3 546.8 L1736.6 551.3 L1738.9 555.8 L1741.2 560.3 L1743.3 564.8 L1745.4 569.3 L1747.5 573.9 L1749.5 578.5 L1751.4 583.1 L1753.3 587.8 L1755.1 592.4 L1756.8 597.1 L1758.6 601.8 L1760.2 606.6 L1761.9 611.3 L1763.5 616.1 L1765.0 620.8 L1766.6 625.6 L1768.1 630.4 L1769.6 635.2 L1771.0 640.0 L1772.5 644.8 L1773.9 649.6 L1775.3 654.5 L1776.8 659.3 L1778.2 664.1 L1779.6 668.9 L1781.0 673.8 L1782.4 678.6 L1783.8 683.4 L1785.2 688.2 L1786.7 693.0 L1788.1 697.8 L1789.6 702.6 L1791.1 707.4 L1792.6 712.2 L1794.2 716.9 L1795.8 721.7 L1797.4 726.4 L1799.1 731.1 L1800.8 735.8 L1802.5 740.5 L1804.3 745.1 L1806.1 749.8 L1808.0 754.4 L1809.8 759.0 L1811.6 763.7 L1813.3 768.4 L1815.0 773.1 L1816.6 777.8 L1818.2 782.5 L1819.8 787.3 L1821.3 792.1 L1822.8 796.9 L1824.3 801.7 L1825.8 806.5 L1827.3 811.3 L1828.7 816.1 L1830.2 820.9 L1831.7 825.7 L1833.2 830.5 L1834.7 835.3 L1836.3 840.1 L1837.9 844.8 L1839.5 849.6 L1841.1 854.3 L1842.7 859.0 L1844.4 863.8 L1846.1 868.5 L1847.8 873.2 L1849.6 877.9 L1851.3 882.6 L1853.0 887.3 L1854.8 892.0 L1856.6 896.7 L1858.3 901.3 L1860.1 906.0 L1861.9 910.7 L1863.7 915.4 L1865.5 920.1 L1867.3 924.8 L1869.0 929.5 L1870.8 934.2 L1872.6 938.9 L1874.3 943.6 L1876.1 948.3 L1877.8 953.0 L1879.5 957.7 L1881.3 962.5 L1882.9 967.2 L1884.6 972.0 L1886.3 976.7 L1888.2 981.4 L1890.2 985.9 L1892.6 990.3 L1895.2 994.4 L1898.2 998.4 L1901.5 1002.2 L1904.7 1006.0 L1907.9 1009.9 L1910.9 1013.8 L1913.9 1017.8 L1916.8 1021.7 L1919.9 1025.5 L1923.1 1029.2 L1926.6 1032.7 L1930.3 1036.1 L1934.2 1039.2 L1938.2 1042.3 L1942.3 1045.2 L1946.4 1048.0 L1950.6 1050.8 L1954.9 1053.4 L1959.2 1056.0 L1963.5 1058.4 L1968.0 1060.7 L1972.5 1062.8 L1977.0 1064.8 L1981.6 1066.6 L1986.3 1068.2 L1991.1 1069.7 L1996.0 1071.0 L2000.9 1072.1 L2005.8 1073.1 L2010.8 1073.9 L2015.8 1074.7 L2020.9 1075.3 L2025.9 1076.0 L2030.9 1076.5 L2035.9 1077.0 L2040.9 1077.6 L2045.8 1078.1 L2050.6 1078.7" stroke="#d80000"/>
<path d="M1070.6 43.9 L1071.2 48.9 L1071.9 53.9 L1072.6 58.9 L1073.3 63.9 L1074.0 68.8 L1074.8 73.8 L1075.5 78.8 L1076.3 83.7 L1077.1 88.7 L1077.9 93.6 L1078.7 98.6 L1079.6 103.5 L1080.4 108.5 L1081.3 113.4 L1082.2 118.3 L1083.1 123.3 L1084.0 128.2 L1084.9 133.1 L1085.9 138.1 L1086.8 143.0 L1087.8 147.9 L1088.8 152.8 L1089.8 157.7 L1090.8 162.6 L1091.8 167.5 L1092.8 172.4 L1093.8 177.3 L1094.9 182.2 L1096.0 187.1 L1097.0 192.0 L1098.1 196.9 L1099.2 201.8 L1100.3 206.7 L1101.4 211.6 L1102.5 216.5 L1103.7 221.4 L1104.8 226.3 L1106.0 231.1 L1107.1 236.0 L1108.3 240.9 L1109.5 245.8 L1110.6 250.7 L1111.8 255.5 L1113.0 260.4 L1114.2 265.3 L1115.4 270.2 L1116.6 275.0 L1117.8 279.9 L1119.1 284.8 L1120.3 289.6 L1121.5 294.5 L1122.8 299.4 L1124.0 304.2 L1125.3 309.1 L1126.5 314.0 L1127.8 318.8 L1129.1 323.7 L1130.4 328.5 L1131.8 333.3 L1133.1 338.2 L1134.6 343.0 L1136.0 347.8 L1137.5 352.5 L1139.1 357.3 L1140.7 362.0 L1142.3 366.8 L1144.0 371.5 L1145.8 376.2 L1147.6 380.8 L1149.5 385.4 L1151.5 390.0 L1153.6 394.6 L1155.7 399.2 L1157.8 403.7 L1160.1 408.2 L1162.3 412.7 L1164.7 417.1 L1167.1 421.5 L1169.5 425.9 L1172.0 430.3 L1174.5 434.7 L1177.1 439.0 L1179.7 443.3 L1182.3 447.6 L1185.0 451.8 L1187.7 456.0 L1190.4 460.2 L1193.2 464.4 L1196.0 468.6 L1198.9 472.7 L1201.7 476.8 L1204.6 480.9 L1207.5 484.9 L1210.5 488.9 L1213.5 492.9 L1216.5 496.9 L1219.5 500.8 L1222.5 504.8 L1225.6 508.7 L1228.6 512.6 L1231.7 516.6 L1234.7 520.5 L1237.8 524.4 L1240.8 528.4 L1243.9 532.3 L1246.9 536.3 L1249.9 540.4 L1252.9 544.4 L1255.8 548.5 L1258.7 552.7 L1261.6 556.8 L1264.5 561.1 L1267.3 565.3 L1270.2 569.6 L1273.1 573.7 L1276.1 577.9 L1279.1 581.9 L1282.3 585.8 L1285.6 589.6 L1289.0 593.2 L1292.6 596.6 L1296.3 599.8 L1300.3 602.7 L1304.5 605.4 L1309.0 607.8 L1313.6 609.9 L1318.4 612.0 L1323.1 614.0 L1327.8 616.1 L1332.4 618.4 L1336.8 620.9 L1341.0 623.6 L1345.1 626.4 L1349.3 629.0 L1353.6 631.3 L1358.3 633.0 L1363.2 634.3 L1368.3 635.0 L1373.4 635.1 L1378.5 634.8 L1383.6 633.9 L1388.4 632.5 L1393.0 630.5 L1397.2 628.1 L1401.2 625.2 L1404.9 621.9 L1408.4 618.3 L1411.7 614.4 L1414.8 610.3 L1417.8 606.1 L1420.6 601.7 L1423.4 597.3 L1426.1 592.9 L1428.7 588.5 L1431.3 584.1 L1433.8 579.7 L1436.2 575.3 L1438.5 570.8 L1440.8 566.3 L1443.1 561.8 L1445.2 557.3 L1447.3 552.8 L1449.4 548.2 L1451.3 543.7 L1453.2 539.1 L1455.1 534.4 L1456.9 529.8 L1458.7 525.1 L1460.4 520.4 L1462.1 515.7 L1463.7 511.0 L1465.3 506.3 L1466.8 501.5 L1468.3 496.8 L1469.8 492.0 L1471.3 487.2 L1472.7 482.4 L1474.1 477.6 L1475.5 472.8 L1476.9 467.9 L1478.2 463.1 L1479.6 458.3 L1480.9 453.4 L1482.2 448.6 L1483.5 443.7 L1484.8 438.9 L1486.1 434.0 L1487.5 429.2 L1488.8 424.3 L1490.1 419.5 L1491.5 414.6 L1492.8 409.8 L1494.2 405.0 L1495.6 400.1 L1497.0 395.3 L1498.4 390.5 L1499.9 385.7 L1501.4 380.9 L1502.9 376.1 L1504.5 371.4 L1506.1 366.6 L1507.7 361.9 L1509.3 357.1 L1510.9 352.4 L1512.6 347.6 L1514.3 342.9 L1516.0 338.2 L1517.7 333.5 L1519.4 328.8 L1521.2 324.1 L1523.0 319.4 L1524.8 314.7 L1526.6 310.1 L1528.4 305.4 L1530.2 300.7 L1532.0 296.1 L1533.9 291.4 L1535.7 286.7 L1537.6 282.1 L1539.4 277.4 L1541.3 272.8 L1543.2 268.1 L1545.0 263.5 L1546.9 258.8 L1548.8 254.2 L1550.7 249.5 L1552.5 244.9 L1554.4 240.3 L1556.3 235.6 L1558.1 231.0 L1560.0 226.3 L1561.8 221.7 L1563.7 217.0 L1565.5 212.4 L1567.4 207.7 L1569.2 203.1 L1571.0 198.4 L1572.9 193.8 L1574.7 189.1 L1576.6 184.5 L1578.5 179.8 L1580.3 175.2 L1582.2 170.5 L1584.1 165.9 L1586.0 161.2 L1587.9 156.6 L1589.9 152.0 L1591.8 147.4 L1593.7 142.7 L1595.6 138.1 L1597.4 133.5 L1599.3 128.9 L1601.1 124.4 L1603.0 119.8 L1605.1 115.3 L1607.2 110.8 L1609.5 106.3 L1612.0 101.9 L1614.7 97.5 L1617.7 93.2 L1620.9 88.9 L1624.5 84.7 L1628.4 80.8 L1632.5 77.9 L1636.8 76.4 L1641.1 76.9 L1645.5 79.1 L1649.7 82.3 L1653.6 85.7 L1657.3 89.3 L1660.7 93.1 L1663.8 97.0 L1666.8 101.0 L1669.5 105.2 L1672.1 109.5 L1674.5 113.9 L1676.7 118.4 L1678.9 122.9 L1680.9 127.5 L1682.9 132.2 L1684.7 136.8 L1686.6 141.5 L1688.4 146.2 L1690.2 150.9 L1692.1 155.6 L1693.9 160.3 L1695.6 165.0 L1697.4 169.7 L1699.1 174.4 L1700.8 179.1 L1702.5 183.9 L1704.1 188.6 L1705.7 193.3 L1707.2 198.1 L1708.7 202.9 L1710.2 207.7 L1711.6 212.5 L1712.9 217.3 L1714.3 222.1 L1715.6 227.0 L1716.9 231.8 L1718.2 236.7 L1719.4 241.5 L1720.7 246.4 L1722.0 251.2 L1723.3 256.1 L1724.6 260.9 L1726.0 265.7 L1727.3 270.6 L1728.7 275.4 L1730.1 280.2 L1731.6 285.0 L1733.0 289.8 L1734.5 294.6 L1735.9 299.4 L1737.4 304.2 L1738.9 309.0 L1740.4 313.8 L1741.8 318.6 L1743.3 323.4 L1744.8 328.2 L1746.2 333.0 L1747.7 337.8 L1749.1 342.6 L1750.5 347.4 L1751.9 352.2 L1753.3 357.0 L1754.6 361.8 L1755.9 366.7 L1757.2 371.5 L1758.5 376.3 L1759.8 381.2 L1761.1 386.0 L1762.3 390.9 L1763.5 395.8 L1764.7 400.6 L1765.9 405.5 L1767.1 410.4 L1768.2 415.2 L1769.4 420.1 L1770.5 425.0 L1771.7 429.9 L1772.8 434.8 L1773.9 439.7 L1775.0 444.6 L1776.1 449.5 L1777.2 454.4 L1778.2 459.3 L1779.3 464.2 L1780.4 469.1 L1781.4 474.0 L1782.5 478.9 L1783.5 483.8 L1784.5 488.7 L1785.6 493.6 L1786.6 498.5 L1787.6 503.5 L1788.7 508.4 L1789.7 513.3 L1790.7 518.2 L1791.8 523.1 L1792.8 528.0 L1793.8 532.9 L1794.8 537.9 L1795.9 542.8 L1796.9 547.7 L1797.9 552.6 L1798.9 557.5 L1799.9 562.4 L1800.9 567.3 L1802.0 572.2 L1803.0 577.2 L1804.0 582.1 L1805.0 587.0 L1806.0 591.9 L1807.1 596.8 L1808.1 601.7 L1809.1 606.6 L1810.1 611.6 L1811.1 616.5 L1812.1 621.4 L1813.2 626.3 L1814.2 631.2 L1815.2 636.1 L1816.2 641.0 L1817.3 645.9 L1818.3 650.8 L1819.3 655.7 L1820.3 660.7 L1821.4 665.6 L1822.4 670.5 L1823.4 675.4 L1824.5 680.3 L1825.5 685.2 L1826.6 690.1 L1827.6 695.0 L1828.6 699.9 L1829.7 704.8 L1830.7 709.7 L1831.8 714.6 L1832.8 719.5 L1833.9 724.4 L1835.0 729.3 L1836.0 734.2 L1837.1 739.1 L1838.2 744.0 L1839.3 748.9 L1840.3 753.7 L1841.4 758.6 L1842.5 763.5 L1843.6 768.4 L1844.7 773.3 L1845.8 778.2 L1847.0 783.0 L1848.1 787.9 L1849.3 792.8 L1850.4 797.7 L1851.6 802.5 L1852.8 807.4 L1853.9 812.3 L1855.1 817.1 L1856.4 822.0 L1857.6 826.8 L1858.8 831.7 L1860.1 836.6 L1861.3 841.4 L1862.6 846.2 L1863.9 851.1 L1865.3 855.9 L1866.6 860.7 L1867.9 865.6 L1869.3 870.4 L1870.7 875.2 L1872.1 880.0 L1873.5 884.8 L1875.0 889.6 L1876.5 894.4 L1878.0 899.2 L1879.5 904.0 L1881.0 908.8 L1882.6 913.6 L1884.1 918.4 L1885.8 923.2 L1887.4 927.9 L1889.0 932.7 L1890.7 937.4 L1892.4 942.2 L1894.2 946.9 L1895.9 951.7 L1897.7 956.4 L1899.6 961.1 L1901.4 965.8 L1903.3 970.5 L1905.3 975.2 L1907.4 979.8 L1909.6 984.2 L1911.9 988.6 L1914.4 992.9 L1917.1 997.1 L1919.9 1001.0 L1923.0 1004.9 L1926.2 1008.7 L1929.4 1012.5 L1932.5 1016.4 L1935.6 1020.4 L1938.7 1024.4 L1941.9 1028.3 L1945.2 1032.1 L1948.7 1035.6 L1952.4 1039.0 L1956.3 1042.0 L1960.5 1044.7 L1964.8 1047.3 L1969.1 1049.8 L1973.3 1052.5 L1977.2 1055.5 L1980.6 1059.0 L1984.1 1062.5 L1989.2 1063.7" stroke="#007000"/>
</g>
<g stroke="#000" stroke-width="10" fill="none">
<line x1="508" y1="45" x2="508" y2="1122"/>
<line x1="463" y1="1078" x2="2054" y2="1078"/>
<line x1="463" y1="185" x2="508" y2="185"/>
<line x1="463" y1="408" x2="508" y2="408"/>
<line x1="463" y1="632" x2="508" y2="632"/>
<line x1="463" y1="855" x2="508" y2="855"/>
<line x1="851" y1="1078" x2="851" y2="1122"/>
<line x1="1193" y1="1078" x2="1193" y2="1122"/>
<line x1="1535" y1="1078" x2="1535" y2="1122"/>
<line x1="1877.5" y1="1078" x2="1877.5" y2="1122"/>
</g>
<g font-family="Liberation Sans, Arial, sans-serif" font-weight="bold" font-size="79" fill="#000">
<text x="452" y="212" text-anchor="end">0.20</text>
<text x="452" y="435" text-anchor="end">0.15</text>
<text x="452" y="659" text-anchor="end">0.10</text>
<text x="452" y="882" text-anchor="end">0.05</text>
<text x="452" y="1105" text-anchor="end">0.00</text>
<text x="507" y="1207" text-anchor="middle">200</text>
<text x="851" y="1207" text-anchor="middle">240</text>
<text x="1193" y="1207" text-anchor="middle">280</text>
<text x="1535" y="1207" text-anchor="middle">320</text>
<text x="1877.5" y="1207" text-anchor="middle">360</text>
</g>
<text x="123.5" y="571" font-family="Liberation Sans, Arial, sans-serif" font-weight="bold" font-size="102.8" text-anchor="middle" transform="rotate(-90 123.5 571)">Absorbance</text>
<text x="1279.5" y="1347.5" font-family="Liberation Sans, Arial, sans-serif" font-weight="bold" font-size="99.2" text-anchor="middle">Wavelength / nm</text>
<text x="1984" y="75" font-family="Liberation Sans, Arial, sans-serif" font-weight="bold" font-size="94">a</text>
<text transform="translate(1155.5 107) scale(1 1.08)" font-family="Liberation Sans, Arial, sans-serif" font-size="97.3">BSA+ERL</text>
<text transform="translate(459.5 1454) scale(1 1.066)" font-family="Liberation Sans, Arial, sans-serif" font-size="96.9">BSA</text>
<rect x="1306" y="222" width="16" height="292" fill="#000"/>
<polygon points="1313.5,149 1283.5,225 1343.5,225" fill="#000"/>
<line x1="909.5" y1="1024" x2="660" y2="1310" stroke="#000" stroke-width="16.5"/>
<polygon points="615,1362 641,1285 689,1325" fill="#000"/>
<g fill="none" stroke-width="3.2" stroke-linejoin="round" clip-path="url(#clipb)">
<path d="M457.4 1710.1 L457.6 1715.1 L457.9 1720.0 L458.1 1725.0 L458.3 1730.0 L458.6 1735.0 L458.8 1740.0 L459.1 1745.0 L459.3 1750.0 L459.5 1755.0 L459.7 1760.0 L460.0 1765.0 L460.2 1770.0 L460.4 1775.1 L460.6 1780.1 L460.8 1785.1 L461.0 1790.1 L461.2 1795.1 L461.4 1800.1 L461.6 1805.1 L461.8 1810.1 L462.0 1815.2 L462.2 1820.2 L462.4 1825.2 L462.6 1830.2 L462.8 1835.3 L463.0 1840.3 L463.2 1845.3 L463.4 1850.3 L463.6 1855.4 L463.7 1860.4 L463.9 1865.4 L464.1 1870.4 L464.3 1875.5 L464.5 1880.5 L464.7 1885.5 L464.9 1890.5 L465.1 1895.6 L465.3 1900.6 L465.5 1905.6 L465.6 1910.7 L465.8 1915.7 L466.0 1920.7 L466.2 1925.8 L466.4 1930.8 L466.6 1935.8 L466.8 1940.9 L467.0 1945.9 L467.3 1950.9 L467.5 1956.0 L467.7 1961.0 L467.9 1966.0 L468.1 1971.1 L468.3 1976.1 L468.6 1981.1 L468.8 1986.2 L469.0 1991.2 L469.3 1996.2 L469.5 2001.2 L469.7 2006.3 L470.0 2011.3 L470.2 2016.3 L470.5 2021.4 L470.7 2026.4 L471.0 2031.4 L471.3 2036.4 L471.6 2041.4 L471.8 2046.5 L472.1 2051.5 L472.4 2056.5 L472.7 2061.5 L473.0 2066.6 L473.3 2071.6 L473.6 2076.6 L473.9 2081.6 L474.3 2086.6 L474.6 2091.6 L474.9 2096.6 L475.3 2101.6 L475.6 2106.7 L476.0 2111.7 L476.3 2116.7 L476.7 2121.7 L477.1 2126.7 L477.5 2131.7 L477.8 2136.7 L478.2 2141.7 L478.7 2146.7 L479.1 2151.7 L479.5 2156.6 L479.9 2161.6 L480.4 2166.6 L480.8 2171.6 L481.3 2176.6 L481.7 2181.6 L482.2 2186.6 L482.7 2191.5 L483.2 2196.5 L483.7 2201.5 L484.2 2206.4 L484.7 2211.4 L485.3 2216.4 L485.8 2221.3 L486.3 2226.3 L486.9 2231.3 L487.5 2236.2 L488.1 2241.2 L488.7 2246.1 L489.3 2251.1 L489.9 2256.0 L490.5 2261.0 L491.2 2265.9 L491.9 2270.9 L492.6 2275.8 L493.4 2280.8 L494.1 2285.7 L494.9 2290.7 L495.8 2295.6 L496.7 2300.6 L497.6 2305.6 L498.5 2310.5 L499.6 2315.5 L500.6 2320.5 L501.7 2325.5 L502.9 2330.5 L504.1 2335.5 L505.3 2340.6 L506.6 2345.6 L508.0 2350.6 L509.6 2355.5 L511.2 2360.4 L513.0 2365.2 L515.0 2369.8 L517.2 2374.4 L519.7 2378.7 L522.3 2382.8 L525.3 2386.7 L528.5 2390.4 L532.1 2393.7 L535.8 2396.8 L539.9 2399.5 L544.1 2401.8 L548.5 2403.7 L553.1 2405.2 L557.8 2406.2 L562.6 2406.6 L567.5 2406.6 L572.5 2406.1 L577.5 2405.2 L582.5 2404.0 L587.5 2402.6 L592.5 2401.0 L597.4 2399.3 L602.3 2397.6 L607.2 2395.9 L612.1 2394.2 L617.0 2392.7 L621.9 2391.4 L626.8 2390.4 L631.6 2389.6 L636.5 2389.3 L641.4 2389.2 L646.3 2389.4 L651.2 2389.9 L656.2 2390.5 L661.1 2391.2 L666.1 2392.0 L671.0 2392.8 L676.0 2393.5 L681.0 2394.1 L686.1 2394.7 L691.1 2395.2 L696.2 2395.8 L701.2 2396.3 L706.2 2396.8 L711.3 2397.3 L716.3 2397.9 L721.3 2398.6 L726.2 2399.4 L731.2 2400.3 L736.1 2401.3 L740.9 2402.5 L745.8 2403.8 L750.5 2405.4 L755.2 2407.1 L759.8 2409.0 L764.3 2411.0 L768.8 2413.3 L773.1 2415.8 L777.3 2418.5 L781.4 2421.5 L785.3 2424.6 L789.2 2427.8 L793.0 2431.2 L796.8 2434.6 L800.7 2437.9 L804.6 2441.2 L808.6 2444.4 L812.7 2447.3 L816.9 2450.1 L821.2 2452.6 L825.6 2454.8 L830.2 2456.8 L834.8 2458.4 L839.6 2459.6 L844.4 2460.5 L849.4 2461.1 L854.4 2461.4 L859.5 2461.5 L864.5 2461.6 L869.6 2461.5 L874.7 2461.5 L879.7 2461.3 L884.8 2461.2 L889.8 2460.9 L894.8 2460.7 L899.9 2460.4 L904.9 2460.1 L909.9 2459.7 L914.9 2459.4 L919.9 2459.0 L925.0 2458.6 L930.0 2458.1 L935.0 2457.7 L940.0 2457.2 L945.0 2456.8 L950.0 2456.3 L955.0 2455.8 L960.0 2455.3 L965.0 2454.9 L970.0 2454.4 L975.0 2454.0 L980.0 2453.5 L985.0 2453.1 L990.0 2452.7 L995.0 2452.3 L1000.0 2451.9 L1005.0 2451.5 L1010.0 2451.1 L1015.0 2450.8 L1020.0 2450.4 L1025.0 2450.1 L1030.0 2449.8 L1035.0 2449.5 L1040.1 2449.2 L1045.1 2448.9 L1050.1 2448.7 L1055.1 2448.4 L1060.1 2448.2 L1065.1 2448.0 L1070.2 2447.7 L1075.2 2447.5 L1080.2 2447.3 L1085.2 2447.1 L1090.2 2446.9 L1095.3 2446.8 L1100.3 2446.6 L1105.3 2446.4 L1110.3 2446.3 L1115.4 2446.1 L1120.4 2446.0 L1125.4 2445.9 L1130.4 2445.8 L1135.5 2445.7 L1140.5 2445.6 L1145.5 2445.5 L1150.5 2445.4 L1155.6 2445.3 L1160.6 2445.2 L1165.6 2445.1 L1170.7 2444.9 L1175.7 2444.7 L1180.7 2444.4 L1185.7 2444.0 L1190.7 2443.6 L1195.6 2443.0 L1200.6 2442.3 L1205.6 2441.5 L1210.5 2440.5 L1215.4 2439.4 L1220.3 2438.2 L1225.2 2437.0 L1230.1 2435.7 L1235.0 2434.3 L1239.8 2432.9 L1244.7 2431.6 L1249.6 2430.2 L1254.4 2428.8 L1259.2 2427.5 L1264.0 2426.2 L1268.9 2425.0 L1273.7 2423.7 L1278.5 2422.6 L1283.3 2421.4 L1288.2 2420.3 L1293.0 2419.2 L1297.9 2418.1 L1302.7 2417.0 L1307.6 2416.0 L1312.5 2414.9 L1317.4 2413.8 L1322.3 2412.8 L1327.3 2411.7 L1332.2 2410.7 L1337.2 2409.6 L1342.2 2408.6 L1347.2 2407.6 L1352.2 2406.7 L1357.2 2405.8 L1362.2 2404.9 L1367.3 2404.1 L1372.3 2403.4 L1377.3 2402.7 L1382.4 2402.0 L1387.4 2401.5 L1392.4 2401.0 L1397.5 2400.6 L1402.5 2400.2 L1407.5 2400.0 L1412.5 2399.9 L1417.5 2399.8 L1422.5 2399.9 L1427.5 2400.1 L1432.5 2400.4 L1437.4 2400.7 L1442.4 2401.2 L1447.3 2401.8 L1452.2 2402.5 L1457.1 2403.3 L1462.1 2404.1 L1466.9 2405.0 L1471.8 2406.0 L1476.7 2407.1 L1481.6 2408.3 L1486.4 2409.5 L1491.3 2410.7 L1496.1 2412.1 L1501.0 2413.4 L1505.8 2414.9 L1510.6 2416.3 L1515.5 2417.8 L1520.3 2419.4 L1525.1 2420.9 L1529.9 2422.5 L1534.7 2424.1 L1539.4 2425.8 L1544.2 2427.4 L1549.0 2429.1 L1553.8 2430.7 L1558.5 2432.4 L1563.3 2434.1 L1568.1 2435.7 L1572.8 2437.4 L1577.6 2439.0 L1582.3 2440.7 L1587.1 2442.3 L1591.8 2443.8 L1596.6 2445.4 L1601.3 2446.9 L1606.1 2448.4 L1610.8 2449.8" stroke="#ff8000" stroke-width="3.0"/>
<path d="M458.3 1710.0 L458.5 1715.0 L458.7 1720.0 L458.9 1725.1 L459.1 1730.1 L459.4 1735.1 L459.6 1740.1 L459.8 1745.1 L459.9 1750.1 L460.1 1755.1 L460.3 1760.1 L460.5 1765.2 L460.7 1770.2 L460.9 1775.2 L461.1 1780.2 L461.3 1785.2 L461.5 1790.2 L461.7 1795.3 L461.9 1800.3 L462.1 1805.3 L462.2 1810.3 L462.4 1815.3 L462.6 1820.4 L462.8 1825.4 L463.0 1830.4 L463.2 1835.4 L463.4 1840.5 L463.6 1845.5 L463.8 1850.5 L463.9 1855.5 L464.1 1860.5 L464.3 1865.6 L464.5 1870.6 L464.7 1875.6 L464.9 1880.6 L465.1 1885.7 L465.3 1890.7 L465.5 1895.7 L465.7 1900.7 L465.9 1905.8 L466.1 1910.8 L466.3 1915.8 L466.6 1920.8 L466.8 1925.8 L467.0 1930.9 L467.2 1935.9 L467.4 1940.9 L467.6 1945.9 L467.9 1951.0 L468.1 1956.0 L468.3 1961.0 L468.6 1966.0 L468.8 1971.1 L469.0 1976.1 L469.3 1981.1 L469.5 1986.1 L469.8 1991.1 L470.0 1996.2 L470.3 2001.2 L470.6 2006.2 L470.8 2011.2 L471.1 2016.2 L471.4 2021.3 L471.6 2026.3 L471.9 2031.3 L472.2 2036.3 L472.5 2041.3 L472.8 2046.4 L473.1 2051.4 L473.4 2056.4 L473.7 2061.4 L474.0 2066.4 L474.4 2071.4 L474.7 2076.4 L475.0 2081.5 L475.3 2086.5 L475.7 2091.5 L476.0 2096.5 L476.4 2101.5 L476.8 2106.5 L477.1 2111.5 L477.5 2116.5 L477.9 2121.5 L478.3 2126.5 L478.6 2131.5 L479.0 2136.5 L479.4 2141.5 L479.9 2146.5 L480.3 2151.5 L480.7 2156.5 L481.1 2161.5 L481.6 2166.5 L482.0 2171.5 L482.5 2176.5 L482.9 2181.5 L483.4 2186.5 L483.9 2191.5 L484.4 2196.5 L484.8 2201.5 L485.3 2206.5 L485.8 2211.5 L486.4 2216.5 L486.9 2221.4 L487.4 2226.4 L488.0 2231.4 L488.5 2236.4 L489.1 2241.4 L489.6 2246.4 L490.2 2251.3 L490.8 2256.3 L491.5 2261.3 L492.2 2266.2 L492.9 2271.2 L493.7 2276.2 L494.6 2281.1 L495.5 2286.0 L496.5 2291.0 L497.6 2295.9 L498.7 2300.8 L500.0 2305.7 L501.3 2310.6 L502.8 2315.5 L504.4 2320.4 L506.1 2325.2 L507.9 2330.0 L510.0 2334.7 L512.2 2339.2 L514.6 2343.6 L517.3 2347.8 L520.3 2351.8 L523.5 2355.6 L527.0 2359.1 L530.9 2362.2 L535.1 2365.0 L539.5 2367.2 L544.2 2368.7 L549.2 2369.4 L554.3 2369.5 L559.5 2369.3 L564.7 2369.0 L569.9 2368.7 L574.9 2368.7 L579.8 2369.2 L584.5 2370.4 L589.0 2372.2 L593.3 2374.5 L597.4 2377.2 L601.4 2380.2 L605.4 2383.4 L609.2 2386.8 L613.1 2390.2 L617.0 2393.7 L620.8 2397.0 L624.7 2400.3 L628.5 2403.6 L632.4 2406.8 L636.2 2410.1 L640.0 2413.3 L643.8 2416.5 L647.6 2419.8 L651.3 2423.0 L655.0 2426.3 L658.7 2429.5 L662.4 2432.8 L666.2 2435.9 L670.1 2439.1 L674.0 2442.1 L678.0 2445.0 L682.1 2447.9 L686.3 2450.6 L690.6 2453.3 L695.0 2455.8 L699.4 2458.2 L703.9 2460.6 L708.5 2462.8 L713.1 2465.0 L717.8 2467.1 L722.5 2469.0 L727.2 2470.9 L732.0 2472.6 L736.8 2474.3 L741.6 2475.9 L746.5 2477.3 L751.3 2478.7 L756.2 2479.9 L761.1 2481.1 L765.9 2482.2 L770.8 2483.2 L775.7 2484.2 L780.6 2485.0 L785.5 2485.8 L790.4 2486.6 L795.4 2487.3 L800.3 2488.0 L805.2 2488.6 L810.2 2489.2 L815.1 2489.7 L820.1 2490.3 L825.1 2490.8 L830.1 2491.3 L835.1 2491.8 L840.1 2492.3 L845.1 2492.8 L850.1 2493.3 L855.1 2493.7 L860.2 2494.1 L865.2 2494.5 L870.2 2494.8 L875.3 2495.1 L880.3 2495.4 L885.4 2495.6 L890.4 2495.8 L895.5 2496.0 L900.5 2496.1 L905.6 2496.2 L910.6 2496.2 L915.7 2496.2 L920.7 2496.1 L925.7 2496.0 L930.8 2495.8 L935.8 2495.6 L940.8 2495.2 L945.8 2494.9 L950.8 2494.4 L955.8 2493.9 L960.8 2493.3 L965.8 2492.7 L970.7 2492.0 L975.7 2491.3 L980.7 2490.5 L985.6 2489.6 L990.5 2488.8 L995.5 2487.8 L1000.4 2486.9 L1005.4 2485.9 L1010.3 2484.9 L1015.2 2483.9 L1020.1 2482.8 L1025.0 2481.8 L1030.0 2480.7 L1034.9 2479.6 L1039.8 2478.5 L1044.7 2477.5 L1049.6 2476.4 L1054.5 2475.4 L1059.4 2474.3 L1064.4 2473.3 L1069.3 2472.3 L1074.2 2471.3 L1079.1 2470.4 L1084.0 2469.4 L1089.0 2468.6 L1093.9 2467.7 L1098.8 2466.9 L1103.8 2466.2 L1108.7 2465.5 L1113.6 2464.9 L1118.6 2464.3 L1123.6 2463.8 L1128.5 2463.4 L1133.5 2463.1 L1138.5 2462.8 L1143.5 2462.6 L1148.5 2462.5 L1153.5 2462.4 L1158.5 2462.5 L1163.5 2462.7 L1168.5 2462.9 L1173.6 2463.3 L1178.6 2463.7 L1183.6 2464.2 L1188.6 2464.8 L1193.7 2465.4 L1198.7 2466.2 L1203.7 2467.0 L1208.7 2467.9 L1213.6 2468.8 L1218.6 2469.9 L1223.6 2471.0 L1228.5 2472.2 L1233.4 2473.4 L1238.3 2474.8 L1243.1 2476.1 L1248.0 2477.6 L1252.8 2479.1 L1257.6 2480.6 L1262.4 2482.1 L1267.2 2483.7 L1272.0 2485.3 L1276.8 2486.8 L1281.6 2488.4 L1286.4 2490.0 L1291.2 2491.5 L1295.9 2493.1 L1300.7 2494.5 L1305.5 2496.0 L1310.3 2497.4 L1315.1 2498.7 L1320.0 2500.0 L1324.8 2501.2 L1329.7 2502.3 L1334.6 2503.4 L1339.4 2504.4 L1344.3 2505.3 L1349.2 2506.2 L1354.2 2507.1 L1359.1 2507.9 L1364.0 2508.6 L1369.0 2509.3 L1373.9 2510.0 L1378.9 2510.6 L1383.9 2511.1 L1388.8 2511.6 L1393.8 2512.1 L1398.8 2512.5 L1403.8 2512.9 L1408.8 2513.2 L1413.9 2513.6 L1418.9 2513.8 L1423.9 2514.1 L1428.9 2514.3 L1434.0 2514.5 L1439.0 2514.6 L1444.1 2514.8 L1449.1 2514.9 L1454.2 2515.0 L1459.2 2515.0 L1464.3 2515.1 L1469.3 2515.1 L1474.4 2515.1 L1479.4 2515.1 L1484.5 2515.1 L1489.6 2515.1 L1494.6 2515.0 L1499.7 2515.0 L1504.7 2514.9 L1509.8 2514.9 L1514.8 2514.8 L1519.9 2514.7 L1524.9 2514.7 L1530.0 2514.6 L1535.0 2514.5 L1540.1 2514.5 L1545.1 2514.4 L1550.1 2514.4 L1555.2 2514.3 L1560.2 2514.3 L1565.2 2514.3 L1570.2 2514.3 L1575.2 2514.3 L1580.2 2514.3 L1585.2 2514.4 L1590.2 2514.4 L1595.1 2514.5 L1600.1 2514.6 L1605.0 2514.8 L1610.0 2514.9" stroke="#00c800" stroke-width="3.4"/>
<path d="M515.0 1710.0 L515.2 1715.0 L515.4 1720.0 L515.6 1725.0 L515.8 1730.1 L516.0 1735.1 L516.2 1740.1 L516.4 1745.1 L516.6 1750.1 L516.8 1755.2 L517.1 1760.2 L517.3 1765.2 L517.5 1770.2 L517.8 1775.2 L518.0 1780.2 L518.2 1785.2 L518.5 1790.3 L518.7 1795.3 L519.0 1800.3 L519.2 1805.3 L519.5 1810.3 L519.7 1815.3 L520.0 1820.3 L520.2 1825.4 L520.5 1830.4 L520.8 1835.4 L521.0 1840.4 L521.3 1845.4 L521.6 1850.4 L521.9 1855.4 L522.1 1860.4 L522.4 1865.4 L522.7 1870.4 L523.0 1875.5 L523.3 1880.5 L523.6 1885.5 L523.9 1890.5 L524.2 1895.5 L524.5 1900.5 L524.8 1905.5 L525.1 1910.5 L525.4 1915.5 L525.8 1920.5 L526.1 1925.5 L526.4 1930.5 L526.7 1935.5 L527.1 1940.5 L527.4 1945.6 L527.7 1950.6 L528.1 1955.6 L528.4 1960.6 L528.8 1965.6 L529.1 1970.6 L529.5 1975.6 L529.9 1980.6 L530.2 1985.6 L530.6 1990.6 L531.0 1995.6 L531.3 2000.6 L531.7 2005.6 L532.1 2010.6 L532.5 2015.6 L532.9 2020.6 L533.3 2025.6 L533.6 2030.6 L534.0 2035.6 L534.5 2040.6 L534.9 2045.6 L535.3 2050.6 L535.7 2055.6 L536.1 2060.6 L536.5 2065.6 L537.0 2070.6 L537.4 2075.6 L537.8 2080.6 L538.3 2085.6 L538.7 2090.6 L539.1 2095.6 L539.6 2100.6 L540.0 2105.6 L540.5 2110.6 L541.0 2115.6 L541.4 2120.6 L541.9 2125.6 L542.4 2130.6 L542.8 2135.6 L543.3 2140.6 L543.8 2145.6 L544.3 2150.6 L544.8 2155.6 L545.3 2160.6 L545.8 2165.6 L546.3 2170.6 L546.8 2175.6 L547.3 2180.6 L547.8 2185.6 L548.4 2190.6 L548.9 2195.6 L549.4 2200.6 L550.0 2205.6 L550.6 2210.6 L551.1 2215.6 L551.7 2220.6 L552.3 2225.6 L552.9 2230.6 L553.6 2235.5 L554.2 2240.5 L554.9 2245.5 L555.6 2250.5 L556.3 2255.4 L557.0 2260.4 L557.8 2265.3 L558.6 2270.3 L559.4 2275.2 L560.3 2280.2 L561.1 2285.1 L562.0 2290.0 L563.0 2295.0 L563.9 2299.9 L564.9 2304.8 L566.0 2309.7 L567.1 2314.6 L568.2 2319.5 L569.3 2324.3 L570.5 2329.2 L571.7 2334.1 L573.0 2338.9 L574.4 2343.7 L575.8 2348.5 L577.5 2353.3 L579.2 2358.0 L581.2 2362.6 L583.4 2367.1 L585.9 2371.6 L588.6 2376.0 L591.6 2380.2 L595.0 2384.2 L598.6 2387.8 L602.4 2391.1 L606.6 2393.9 L610.9 2396.2 L615.6 2397.8 L620.4 2398.8 L625.4 2399.0 L630.5 2398.5 L635.6 2397.4 L640.4 2395.7 L645.0 2393.4 L649.3 2390.6 L653.3 2387.4 L657.2 2384.1 L661.0 2380.8 L664.9 2377.7 L669.0 2374.9 L673.4 2372.7 L678.0 2371.1 L682.7 2369.7 L687.3 2368.0 L691.5 2365.8 L695.3 2362.7 L698.7 2359.1 L701.8 2355.0 L704.8 2350.7 L707.8 2346.3 L710.8 2342.2 L714.0 2338.4 L717.4 2334.9 L721.0 2331.7 L724.7 2328.8 L728.6 2325.9 L732.5 2323.0 L736.6 2320.1 L740.6 2317.1 L744.7 2313.8 L748.7 2310.4 L752.8 2306.8 L756.9 2303.2 L761.0 2299.6 L765.1 2296.1 L769.3 2292.8 L773.5 2289.7 L777.7 2287.0 L781.9 2284.8 L786.3 2283.0 L790.6 2281.8 L795.0 2281.2 L799.5 2281.4 L804.0 2282.3 L808.5 2283.8 L813.0 2285.8 L817.4 2288.3 L821.6 2291.2 L825.8 2294.5 L829.8 2298.0 L833.5 2301.7 L837.1 2305.6 L840.4 2309.5 L843.5 2313.6 L846.3 2317.7 L849.0 2322.0 L851.5 2326.3 L853.8 2330.7 L856.0 2335.1 L858.0 2339.7 L859.9 2344.2 L861.8 2348.9 L863.5 2353.6 L865.1 2358.3 L866.7 2363.0 L868.2 2367.8 L869.6 2372.6 L871.1 2377.4 L872.5 2382.3 L874.0 2387.1 L875.4 2391.9 L876.9 2396.8 L878.5 2401.6 L880.0 2406.4 L881.7 2411.1 L883.5 2415.9 L885.3 2420.6 L887.3 2425.2 L889.4 2429.8 L891.7 2434.4 L894.1 2438.8 L896.7 2443.2 L899.4 2447.5 L902.4 2451.7 L905.5 2455.8 L908.8 2459.6 L912.3 2463.3 L915.9 2466.7 L919.8 2469.9 L923.9 2472.9 L928.1 2475.7 L932.4 2478.2 L936.8 2480.6 L941.4 2482.9 L946.0 2485.0 L950.6 2486.9 L955.3 2488.7 L960.0 2490.4 L964.8 2491.9 L969.5 2493.4 L974.3 2494.7 L979.1 2495.9 L984.0 2497.0 L988.8 2498.0 L993.7 2499.0 L998.6 2499.8 L1003.5 2500.6 L1008.5 2501.3 L1013.4 2501.9 L1018.4 2502.4 L1023.4 2502.9 L1028.3 2503.3 L1033.3 2503.6 L1038.4 2503.9 L1043.4 2504.2 L1048.4 2504.4 L1053.4 2504.6 L1058.5 2504.7 L1063.5 2504.9 L1068.6 2505.0 L1073.6 2505.0 L1078.7 2505.1 L1083.8 2505.1 L1088.8 2505.2 L1093.9 2505.2 L1098.9 2505.3 L1104.0 2505.4 L1109.0 2505.4 L1114.1 2505.5 L1119.1 2505.6 L1124.2 2505.6 L1129.2 2505.7 L1134.3 2505.8 L1139.3 2505.9 L1144.3 2506.0 L1149.4 2506.1 L1154.4 2506.2 L1159.4 2506.3 L1164.5 2506.4 L1169.5 2506.5 L1174.5 2506.6 L1179.6 2506.7 L1184.6 2506.8 L1189.6 2506.9 L1194.6 2507.1 L1199.7 2507.2 L1204.7 2507.3 L1209.7 2507.4 L1214.7 2507.6 L1219.7 2507.7 L1224.7 2507.8 L1229.8 2508.0 L1234.8 2508.1 L1239.8 2508.2 L1244.8 2508.4 L1249.8 2508.5 L1254.8 2508.7 L1259.8 2508.8 L1264.8 2508.9 L1269.8 2509.1 L1274.8 2509.2 L1279.8 2509.4 L1284.8 2509.5 L1289.9 2509.7 L1294.9 2509.8 L1299.9 2510.0 L1304.9 2510.1 L1309.9 2510.2 L1314.9 2510.4 L1319.9 2510.5 L1324.9 2510.7 L1329.9 2510.8 L1334.9 2510.9 L1339.9 2511.1 L1344.9 2511.2 L1349.9 2511.4 L1354.9 2511.5 L1359.9 2511.6 L1364.9 2511.8 L1369.9 2511.9 L1374.9 2512.0 L1379.9 2512.2 L1384.9 2512.3 L1389.9 2512.4 L1394.9 2512.5 L1399.9 2512.6 L1404.9 2512.7 L1409.9 2512.9 L1414.9 2513.0 L1419.9 2513.1 L1424.9 2513.2 L1429.9 2513.3 L1434.9 2513.4 L1439.9 2513.5 L1444.9 2513.6 L1449.9 2513.6 L1455.0 2513.7 L1460.0 2513.8 L1465.0 2513.9 L1470.0 2514.0 L1475.0 2514.0 L1480.0 2514.1 L1485.0 2514.1 L1490.1 2514.2 L1495.1 2514.2 L1500.1 2514.3 L1505.1 2514.3 L1510.1 2514.4 L1515.2 2514.4 L1520.2 2514.4 L1525.2 2514.4 L1530.2 2514.4 L1535.3 2514.4 L1540.3 2514.4 L1545.3 2514.4 L1550.4 2514.4 L1555.4 2514.4 L1560.4 2514.4 L1565.5 2514.4 L1570.5 2514.3 L1575.6 2514.3 L1580.6 2514.2 L1585.6 2514.2 L1590.7 2514.1 L1595.7 2514.0 L1600.8 2514.0 L1605.9 2513.9 L1610.9 2513.8" stroke="#0000ff" stroke-width="3.4"/>
<path d="M524.5 1710.0 L524.8 1715.0 L525.0 1720.0 L525.3 1725.1 L525.6 1730.1 L525.9 1735.1 L526.1 1740.1 L526.4 1745.1 L526.7 1750.2 L527.0 1755.2 L527.2 1760.2 L527.5 1765.2 L527.8 1770.2 L528.0 1775.2 L528.3 1780.3 L528.6 1785.3 L528.8 1790.3 L529.1 1795.3 L529.4 1800.3 L529.7 1805.3 L529.9 1810.3 L530.2 1815.3 L530.5 1820.3 L530.8 1825.3 L531.1 1830.4 L531.4 1835.4 L531.7 1840.4 L532.0 1845.4 L532.3 1850.4 L532.6 1855.4 L532.9 1860.4 L533.2 1865.4 L533.5 1870.4 L533.8 1875.4 L534.1 1880.4 L534.5 1885.4 L534.8 1890.4 L535.1 1895.4 L535.5 1900.4 L535.8 1905.4 L536.2 1910.4 L536.5 1915.4 L536.9 1920.4 L537.3 1925.4 L537.6 1930.4 L538.0 1935.4 L538.4 1940.4 L538.8 1945.3 L539.2 1950.3 L539.6 1955.3 L540.1 1960.3 L540.5 1965.3 L540.9 1970.3 L541.4 1975.3 L541.8 1980.3 L542.3 1985.3 L542.8 1990.3 L543.2 1995.3 L543.7 2000.3 L544.2 2005.3 L544.7 2010.2 L545.3 2015.2 L545.8 2020.2 L546.3 2025.2 L546.9 2030.2 L547.4 2035.2 L548.0 2040.2 L548.6 2045.2 L549.2 2050.2 L549.8 2055.1 L550.4 2060.1 L551.0 2065.1 L551.7 2070.1 L552.3 2075.1 L553.0 2080.1 L553.7 2085.1 L554.4 2090.1 L555.1 2095.1 L555.8 2100.0 L556.5 2105.0 L557.3 2110.0 L558.0 2115.0 L558.8 2120.0 L559.6 2125.0 L560.5 2129.9 L561.4 2134.9 L562.3 2139.8 L563.3 2144.8 L564.3 2149.7 L565.3 2154.6 L566.5 2159.5 L567.6 2164.4 L568.9 2169.2 L570.1 2174.1 L571.5 2178.9 L572.9 2183.7 L574.4 2188.4 L576.0 2193.2 L577.6 2197.9 L579.4 2202.6 L581.2 2207.2 L583.1 2211.9 L585.1 2216.4 L587.2 2221.0 L589.4 2225.5 L591.7 2229.9 L594.1 2234.3 L596.6 2238.6 L599.2 2242.9 L602.0 2247.1 L604.8 2251.3 L607.8 2255.3 L610.9 2259.3 L614.1 2263.2 L617.5 2267.0 L621.0 2270.8 L624.6 2274.4 L628.3 2277.9 L632.2 2281.3 L636.3 2284.3 L640.5 2286.8 L644.9 2288.7 L649.5 2289.9 L654.3 2290.5 L659.2 2290.7 L664.2 2290.7 L669.2 2290.9 L674.3 2291.2 L679.3 2291.5 L684.3 2291.7 L689.2 2291.4 L694.0 2290.7 L698.7 2289.3 L703.3 2287.4 L707.9 2285.3 L712.4 2283.1 L716.9 2280.9 L721.4 2278.7 L725.8 2276.6 L730.3 2274.4 L734.8 2272.3 L739.3 2270.1 L743.8 2268.0 L748.3 2265.7 L752.8 2263.5 L757.3 2261.1 L761.9 2258.7 L766.5 2256.2 L771.1 2253.6 L775.7 2251.2 L780.3 2249.1 L784.9 2247.3 L789.5 2246.1 L794.0 2245.5 L798.6 2245.7 L803.1 2246.6 L807.5 2248.4 L811.9 2250.7 L816.1 2253.6 L820.3 2256.9 L824.3 2260.5 L828.2 2264.4 L831.9 2268.5 L835.4 2272.7 L838.7 2276.9 L841.8 2281.1 L844.7 2285.3 L847.5 2289.6 L850.1 2293.9 L852.5 2298.2 L854.7 2302.7 L856.8 2307.2 L858.8 2311.7 L860.6 2316.3 L862.3 2321.0 L863.9 2325.7 L865.4 2330.4 L866.9 2335.1 L868.3 2339.9 L869.7 2344.7 L871.0 2349.5 L872.4 2354.4 L873.8 2359.2 L875.1 2364.0 L876.5 2368.8 L878.0 2373.6 L879.6 2378.4 L881.2 2383.2 L882.9 2387.9 L884.7 2392.6 L886.7 2397.2 L888.8 2401.8 L891.0 2406.3 L893.5 2410.8 L896.1 2415.2 L898.9 2419.6 L901.8 2423.8 L905.0 2427.9 L908.3 2431.9 L911.7 2435.7 L915.3 2439.4 L919.0 2442.9 L922.9 2446.3 L926.9 2449.4 L931.0 2452.3 L935.2 2454.9 L939.5 2457.3 L943.9 2459.4 L948.4 2461.3 L953.0 2462.8 L957.6 2464.1 L962.4 2465.2 L967.2 2466.0 L972.0 2466.5 L976.9 2466.9 L981.9 2467.1 L986.9 2467.1 L991.9 2467.0 L996.9 2466.7 L1002.0 2466.3 L1007.1 2465.7 L1012.2 2465.1 L1017.3 2464.4 L1022.5 2463.6 L1027.6 2462.7 L1032.7 2461.8 L1037.7 2460.9 L1042.8 2460.0 L1047.8 2459.1 L1052.8 2458.2 L1057.8 2457.3 L1062.8 2456.4 L1067.8 2455.5 L1072.7 2454.6 L1077.7 2453.8 L1082.6 2453.0 L1087.5 2452.2 L1092.5 2451.4 L1097.4 2450.7 L1102.3 2450.1 L1107.2 2449.4 L1112.1 2448.9 L1117.0 2448.4 L1121.9 2447.9 L1126.8 2447.5 L1131.8 2447.2 L1136.7 2447.0 L1141.7 2446.8 L1146.6 2446.7 L1151.6 2446.7 L1156.6 2446.9 L1161.6 2447.0 L1166.6 2447.3 L1171.6 2447.7 L1176.6 2448.2 L1181.6 2448.7 L1186.7 2449.3 L1191.7 2450.0 L1196.7 2450.8 L1201.7 2451.7 L1206.7 2452.7 L1211.6 2453.7 L1216.6 2454.9 L1221.5 2456.1 L1226.4 2457.4 L1231.3 2458.7 L1236.1 2460.2 L1240.9 2461.7 L1245.7 2463.3 L1250.5 2464.9 L1255.2 2466.6 L1260.0 2468.4 L1264.7 2470.1 L1269.4 2471.9 L1274.1 2473.7 L1278.8 2475.5 L1283.5 2477.3 L1288.1 2479.1 L1292.8 2480.9 L1297.5 2482.6 L1302.2 2484.3 L1306.9 2486.0 L1311.7 2487.6 L1316.4 2489.1 L1321.2 2490.6 L1326.0 2492.0 L1330.8 2493.3 L1335.6 2494.6 L1340.4 2495.8 L1345.3 2497.0 L1350.2 2498.1 L1355.1 2499.1 L1360.0 2500.1 L1364.9 2501.0 L1369.8 2501.9 L1374.7 2502.7 L1379.7 2503.5 L1384.6 2504.3 L1389.6 2504.9 L1394.6 2505.6 L1399.6 2506.2 L1404.6 2506.8 L1409.6 2507.3 L1414.6 2507.8 L1419.6 2508.2 L1424.7 2508.6 L1429.7 2509.0 L1434.7 2509.3 L1439.8 2509.6 L1444.8 2509.9 L1449.9 2510.2 L1454.9 2510.4 L1460.0 2510.6 L1465.0 2510.8 L1470.1 2510.9 L1475.1 2511.1 L1480.2 2511.2 L1485.2 2511.3 L1490.3 2511.4 L1495.3 2511.5 L1500.3 2511.5 L1505.4 2511.6 L1510.4 2511.6 L1515.4 2511.6 L1520.4 2511.6 L1525.4 2511.7 L1530.4 2511.7 L1535.4 2511.7 L1540.4 2511.7 L1545.4 2511.7 L1550.4 2511.7 L1555.3 2511.7 L1560.3 2511.7 L1565.2 2511.7" stroke="#ff0000" stroke-width="3.4"/>
<path d="M527.6 1710.0 L528.0 1715.0 L528.3 1720.0 L528.6 1725.0 L528.9 1730.0 L529.2 1735.0 L529.5 1740.0 L529.8 1745.0 L530.1 1750.0 L530.4 1755.0 L530.7 1760.1 L531.0 1765.1 L531.2 1770.1 L531.5 1775.1 L531.8 1780.1 L532.1 1785.1 L532.4 1790.1 L532.7 1795.1 L533.0 1800.1 L533.3 1805.1 L533.6 1810.1 L533.9 1815.1 L534.2 1820.2 L534.5 1825.2 L534.8 1830.2 L535.1 1835.2 L535.4 1840.2 L535.7 1845.2 L536.0 1850.2 L536.3 1855.2 L536.6 1860.2 L537.0 1865.2 L537.3 1870.2 L537.6 1875.2 L538.0 1880.2 L538.3 1885.2 L538.7 1890.3 L539.0 1895.3 L539.4 1900.3 L539.8 1905.3 L540.1 1910.3 L540.5 1915.3 L540.9 1920.3 L541.3 1925.3 L541.7 1930.3 L542.1 1935.3 L542.5 1940.3 L543.0 1945.3 L543.4 1950.2 L543.9 1955.2 L544.3 1960.2 L544.8 1965.2 L545.3 1970.2 L545.8 1975.2 L546.2 1980.2 L546.8 1985.2 L547.3 1990.2 L547.8 1995.2 L548.3 2000.1 L548.9 2005.1 L549.5 2010.1 L550.0 2015.1 L550.6 2020.1 L551.2 2025.0 L551.9 2030.0 L552.5 2035.0 L553.1 2040.0 L553.8 2044.9 L554.5 2049.9 L555.1 2054.9 L555.8 2059.8 L556.6 2064.8 L557.3 2069.8 L558.0 2074.7 L558.8 2079.7 L559.6 2084.7 L560.4 2089.6 L561.2 2094.6 L562.0 2099.5 L562.8 2104.5 L563.7 2109.4 L564.6 2114.3 L565.6 2119.3 L566.7 2124.2 L567.9 2129.0 L569.1 2133.9 L570.5 2138.7 L572.0 2143.5 L573.7 2148.2 L575.6 2152.9 L577.6 2157.6 L579.9 2162.2 L582.4 2166.7 L585.1 2171.2 L588.0 2175.6 L591.2 2179.9 L594.7 2183.8 L598.4 2187.0 L602.3 2189.3 L606.4 2190.2 L610.8 2189.7 L615.3 2187.9 L619.9 2185.3 L624.5 2182.4 L629.2 2179.6 L633.9 2177.0 L638.4 2174.7 L642.9 2172.5 L647.2 2170.2 L651.4 2167.6 L655.5 2164.7 L659.4 2161.8 L663.4 2158.8 L667.5 2156.1 L671.7 2153.6 L676.2 2151.6 L680.8 2149.8 L685.4 2148.2 L690.0 2146.3 L694.4 2144.2 L698.6 2141.8 L702.7 2139.1 L706.7 2136.2 L710.7 2133.3 L714.7 2130.3 L718.7 2127.3 L722.8 2124.3 L727.0 2121.5 L731.4 2119.0 L736.0 2116.6 L740.8 2114.6 L745.7 2113.0 L750.8 2111.8 L756.0 2111.0 L761.1 2110.8 L766.2 2111.1 L771.1 2111.9 L775.9 2113.3 L780.4 2115.2 L784.8 2117.6 L788.9 2120.4 L792.7 2123.6 L796.2 2127.0 L799.5 2130.8 L802.4 2134.7 L805.1 2138.9 L807.6 2143.2 L810.0 2147.7 L812.2 2152.2 L814.4 2156.8 L816.5 2161.4 L818.7 2166.1 L820.9 2170.7 L823.2 2175.2 L825.7 2179.7 L828.2 2184.1 L830.8 2188.5 L833.5 2192.8 L836.1 2197.2 L838.8 2201.5 L841.4 2205.8 L843.8 2210.2 L846.2 2214.6 L848.4 2219.0 L850.5 2223.5 L852.5 2228.1 L854.4 2232.6 L856.1 2237.3 L857.8 2242.0 L859.4 2246.7 L861.0 2251.4 L862.5 2256.1 L864.0 2260.9 L865.4 2265.7 L866.8 2270.5 L868.3 2275.3 L869.7 2280.1 L871.2 2285.0 L872.7 2289.8 L874.2 2294.6 L875.8 2299.4 L877.5 2304.2 L879.2 2308.9 L881.1 2313.6 L883.1 2318.4 L885.1 2323.0 L887.3 2327.6 L889.7 2332.2 L892.1 2336.7 L894.7 2341.1 L897.4 2345.3 L900.3 2349.4 L903.3 2353.4 L906.5 2357.2 L909.8 2360.9 L913.3 2364.3 L916.9 2367.6 L920.8 2370.6 L924.7 2373.4 L928.9 2375.9 L933.3 2378.2 L937.8 2380.1 L942.5 2381.9 L947.3 2383.4 L952.2 2384.7 L957.2 2385.9 L962.2 2386.9 L967.3 2387.7 L972.5 2388.5 L977.6 2389.1 L982.8 2389.7 L987.9 2390.2 L993.0 2390.7 L998.0 2391.1 L1003.1 2391.5 L1008.1 2391.8 L1013.2 2392.1 L1018.2 2392.3 L1023.2 2392.5 L1028.2 2392.7 L1033.2 2392.8 L1038.2 2392.9 L1043.1 2393.0 L1048.1 2393.0 L1053.1 2393.0 L1058.0 2393.0 L1063.0 2393.0 L1068.0 2392.9 L1072.9 2392.8 L1077.9 2392.8 L1082.9 2392.7 L1087.9 2392.6 L1092.9 2392.5 L1097.9 2392.4 L1102.9 2392.3 L1107.9 2392.2 L1112.9 2392.1 L1118.0 2392.0 L1123.0 2391.8 L1128.0 2391.7 L1133.1 2391.5 L1138.1 2391.3 L1143.2 2391.0 L1148.2 2390.8 L1153.2 2390.5 L1158.3 2390.1 L1163.3 2389.8 L1168.3 2389.4 L1173.3 2388.9 L1178.3 2388.4 L1183.3 2387.8 L1188.3 2387.2 L1193.3 2386.6 L1198.2 2385.8 L1203.2 2385.0 L1208.1 2384.2 L1213.0 2383.3 L1217.9 2382.3 L1222.8 2381.2 L1227.6 2380.1 L1232.4 2378.8 L1237.2 2377.5 L1242.0 2376.1 L1246.7 2374.6 L1251.4 2373.1 L1256.1 2371.4 L1260.8 2369.6 L1265.4 2367.8 L1270.0 2365.8 L1274.6 2363.8 L1279.2 2361.7 L1283.7 2359.6 L1288.3 2357.4 L1292.8 2355.2 L1297.3 2353.0 L1301.8 2350.7 L1306.3 2348.4 L1310.8 2346.2 L1315.3 2343.9 L1319.9 2341.7 L1324.4 2339.4 L1328.9 2337.3 L1333.5 2335.1 L1338.1 2333.0 L1342.7 2331.0 L1347.3 2329.1 L1351.9 2327.2 L1356.6 2325.4 L1361.3 2323.7 L1366.1 2322.2 L1370.8 2320.7 L1375.7 2319.4 L1380.5 2318.2 L1385.4 2317.1 L1390.3 2316.1 L1395.3 2315.3 L1400.3 2314.5 L1405.3 2313.9 L1410.3 2313.3 L1415.3 2312.9 L1420.4 2312.6 L1425.4 2312.3 L1430.5 2312.2 L1435.5 2312.1 L1440.6 2312.1 L1445.6 2312.2 L1450.7 2312.4 L1455.7 2312.7 L1460.7 2313.1 L1465.7 2313.5 L1470.6 2314.1 L1475.6 2314.8 L1480.5 2315.6 L1485.4 2316.5 L1490.2 2317.6 L1495.1 2318.8 L1499.8 2320.1 L1504.6 2321.6 L1509.3 2323.3 L1513.9 2325.0 L1518.5 2327.0 L1523.0 2329.1 L1527.5 2331.3 L1532.0 2333.7 L1536.4 2336.1 L1540.8 2338.7 L1545.2 2341.3 L1549.6 2344.0 L1553.9 2346.7 L1558.2 2349.4 L1562.6 2352.1 L1566.9 2354.8 L1571.2 2357.5 L1575.5 2360.2 L1579.9 2362.8 L1584.2 2365.4 L1588.6 2367.8 L1593.0 2370.2 L1597.4 2372.4 L1601.9 2374.5 L1606.4 2376.5 L1610.9 2378.3" stroke="#d400ff" stroke-width="3.4"/>
<path d="M537.5 1710.0 L538.1 1715.1 L538.6 1720.1 L539.1 1725.2 L539.7 1730.3 L540.2 1735.3 L540.7 1740.4 L541.2 1745.4 L541.7 1750.4 L542.1 1755.5 L542.6 1760.5 L543.1 1765.5 L543.5 1770.5 L544.0 1775.4 L544.4 1780.4 L544.9 1785.4 L545.4 1790.4 L545.8 1795.3 L546.3 1800.3 L546.7 1805.3 L547.2 1810.2 L547.7 1815.2 L548.1 1820.1 L548.6 1825.1 L549.1 1830.0 L549.6 1835.0 L550.1 1839.9 L550.6 1844.9 L551.1 1849.8 L551.6 1854.8 L552.2 1859.7 L552.7 1864.7 L553.3 1869.6 L553.9 1874.6 L554.5 1879.6 L555.1 1884.5 L555.7 1889.5 L556.4 1894.5 L557.1 1899.5 L557.8 1904.5 L558.5 1909.5 L559.2 1914.5 L560.0 1919.5 L560.8 1924.5 L561.6 1929.6 L562.4 1934.6 L563.3 1939.6 L564.2 1944.7 L565.1 1949.7 L566.1 1954.8 L567.2 1959.8 L568.3 1964.8 L569.5 1969.7 L570.8 1974.6 L572.2 1979.5 L573.7 1984.3 L575.3 1989.1 L577.1 1993.7 L578.9 1998.3 L580.9 2002.9 L583.1 2007.3 L585.4 2011.7 L587.9 2015.9 L590.5 2020.1 L593.3 2024.1 L596.4 2028.0 L599.6 2031.7 L603.0 2035.4 L606.6 2038.9 L610.5 2042.2 L614.5 2045.3 L618.7 2048.3 L623.0 2051.0 L627.5 2053.4 L632.1 2055.5 L636.8 2057.3 L641.6 2058.8 L646.4 2059.9 L651.3 2060.7 L656.2 2061.1 L661.0 2061.5 L665.8 2062.2 L670.5 2063.6 L675.2 2065.3 L679.8 2067.2 L684.4 2068.9 L689.0 2070.1 L693.8 2070.6 L698.6 2070.6 L703.5 2070.2 L708.4 2069.5 L713.4 2068.6 L718.4 2067.7 L723.4 2066.8 L728.4 2066.0 L733.4 2065.6 L738.5 2065.4 L743.5 2065.5 L748.4 2065.9 L753.4 2066.7 L758.3 2067.8 L763.1 2069.1 L767.8 2070.9 L772.5 2072.9 L776.9 2075.2 L781.2 2077.9 L785.3 2080.8 L789.2 2084.0 L792.7 2087.4 L796.0 2091.1 L799.0 2095.1 L801.6 2099.3 L804.1 2103.6 L806.4 2108.1 L808.5 2112.6 L810.7 2117.2 L812.8 2121.8 L815.0 2126.4 L817.3 2130.9 L819.6 2135.3 L822.1 2139.7 L824.6 2144.1 L827.1 2148.5 L829.5 2152.8 L832.0 2157.2 L834.4 2161.6 L836.8 2166.0 L839.1 2170.5 L841.3 2175.0 L843.4 2179.5 L845.4 2184.1 L847.4 2188.7 L849.3 2193.3 L851.2 2197.9 L853.0 2202.6 L854.8 2207.3 L856.5 2212.0 L858.3 2216.7 L860.0 2221.5 L861.6 2226.2 L863.3 2231.0 L865.0 2235.7 L866.7 2240.5 L868.3 2245.2 L870.0 2250.0 L871.7 2254.7 L873.5 2259.4 L875.3 2264.2 L877.1 2268.8 L878.9 2273.5 L880.8 2278.2 L882.8 2282.8 L884.8 2287.4 L886.9 2292.0 L889.1 2296.5 L891.3 2301.0 L893.7 2305.5 L896.1 2309.9 L898.7 2314.2 L901.4 2318.4 L904.3 2322.5 L907.4 2326.5 L910.7 2330.3 L914.2 2334.0 L918.0 2337.4 L922.0 2340.7 L926.1 2343.8 L930.5 2346.6 L935.0 2349.2 L939.6 2351.6 L944.2 2353.7 L949.0 2355.6 L953.8 2357.2 L958.6 2358.5 L963.4 2359.5 L968.3 2360.3 L973.1 2360.9 L978.0 2361.2 L982.9 2361.3 L987.8 2361.2 L992.7 2361.0 L997.6 2360.5 L1002.5 2360.0 L1007.5 2359.2 L1012.4 2358.4 L1017.4 2357.4 L1022.3 2356.4 L1027.3 2355.2 L1032.3 2354.0 L1037.2 2352.8 L1042.2 2351.5 L1047.1 2350.1 L1052.1 2348.8 L1057.0 2347.4 L1062.0 2346.1 L1066.9 2344.8 L1071.9 2343.5 L1076.8 2342.3 L1081.7 2341.1 L1086.6 2339.9 L1091.5 2338.8 L1096.5 2337.8 L1101.4 2336.7 L1106.3 2335.8 L1111.2 2334.8 L1116.1 2334.0 L1121.0 2333.1 L1125.9 2332.3 L1130.8 2331.6 L1135.8 2330.9 L1140.7 2330.3 L1145.6 2329.7 L1150.6 2329.2 L1155.5 2328.8 L1160.5 2328.4 L1165.4 2328.0 L1170.4 2327.7 L1175.4 2327.5 L1180.4 2327.3 L1185.4 2327.2 L1190.4 2327.1 L1195.4 2327.1 L1200.5 2327.0 L1205.5 2327.1 L1210.5 2327.1 L1215.6 2327.2 L1220.6 2327.2 L1225.7 2327.3 L1230.7 2327.4 L1235.8 2327.5 L1240.8 2327.6 L1245.9 2327.7 L1250.9 2327.8 L1256.0 2327.9 L1261.0 2327.9 L1266.1 2328.0 L1271.1 2328.0 L1276.2 2327.9 L1281.2 2327.9 L1286.3 2327.8 L1291.3 2327.6 L1296.3 2327.4 L1301.3 2327.2 L1306.4 2326.9 L1311.4 2326.5 L1316.4 2326.1 L1321.4 2325.6 L1326.3 2325.0 L1331.3 2324.4 L1336.3 2323.7 L1341.2 2322.9 L1346.2 2322.1 L1351.1 2321.2 L1356.0 2320.3 L1361.0 2319.3 L1365.9 2318.4 L1370.8 2317.4 L1375.8 2316.5 L1380.7 2315.5 L1385.7 2314.6 L1390.6 2313.7 L1395.6 2312.9 L1400.5 2312.2 L1405.5 2311.5 L1410.5 2310.8 L1415.5 2310.3 L1420.5 2309.9 L1425.6 2309.5 L1430.6 2309.3 L1435.6 2309.1 L1440.7 2309.1 L1445.7 2309.2 L1450.7 2309.4 L1455.8 2309.7 L1460.8 2310.1 L1465.8 2310.6 L1470.7 2311.3 L1475.7 2312.1 L1480.6 2313.0 L1485.5 2314.0 L1490.3 2315.2 L1495.1 2316.5 L1499.9 2318.0 L1504.6 2319.6 L1509.3 2321.3 L1513.9 2323.2 L1518.5 2325.3 L1523.0 2327.5 L1527.5 2329.8 L1532.0 2332.2 L1536.4 2334.7 L1540.8 2337.3 L1545.1 2339.9 L1549.4 2342.6 L1553.8 2345.3 L1558.1 2348.0 L1562.4 2350.8 L1566.7 2353.5 L1571.0 2356.2 L1575.3 2358.9 L1579.7 2361.5 L1584.0 2364.0 L1588.4 2366.5 L1592.8 2368.8 L1597.3 2371.0 L1601.8 2373.1 L1606.3 2375.1 L1610.9 2376.9" stroke="#000000" stroke-width="3.0"/>
</g>
<g stroke="#000" stroke-width="7" fill="none">
<line x1="411" y1="1710.5" x2="411" y2="2519"/>
<line x1="379" y1="2516" x2="1615" y2="2516"/>
<line x1="379" y1="1714" x2="414" y2="1714"/>
<line x1="379" y1="1875" x2="414" y2="1875"/>
<line x1="379" y1="2036" x2="414" y2="2036"/>
<line x1="379" y1="2196" x2="414" y2="2196"/>
<line x1="379" y1="2356" x2="414" y2="2356"/>
<line x1="444.2" y1="2516" x2="444.2" y2="2535.5"/>
<line x1="477.6" y1="2516" x2="477.6" y2="2535.5"/>
<line x1="510.9" y1="2516" x2="510.9" y2="2535.5"/>
<line x1="544.3" y1="2516" x2="544.3" y2="2535.5"/>
<line x1="577.6" y1="2516" x2="577.6" y2="2535.5"/>
<line x1="611.0" y1="2516" x2="611.0" y2="2550.5"/>
<line x1="644.4" y1="2516" x2="644.4" y2="2535.5"/>
<line x1="677.7" y1="2516" x2="677.7" y2="2535.5"/>
<line x1="711.0" y1="2516" x2="711.0" y2="2535.5"/>
<line x1="744.4" y1="2516" x2="744.4" y2="2535.5"/>
<line x1="777.8" y1="2516" x2="777.8" y2="2535.5"/>
<line x1="811.1" y1="2516" x2="811.1" y2="2535.5"/>
<line x1="844.5" y1="2516" x2="844.5" y2="2535.5"/>
<line x1="877.8" y1="2516" x2="877.8" y2="2535.5"/>
<line x1="911.1" y1="2516" x2="911.1" y2="2535.5"/>
<line x1="944.5" y1="2516" x2="944.5" y2="2550.5"/>
<line x1="977.9" y1="2516" x2="977.9" y2="2535.5"/>
<line x1="1011.2" y1="2516" x2="1011.2" y2="2535.5"/>
<line x1="1044.5" y1="2516" x2="1044.5" y2="2535.5"/>
<line x1="1077.9" y1="2516" x2="1077.9" y2="2535.5"/>
<line x1="1111.2" y1="2516" x2="1111.2" y2="2535.5"/>
<line x1="1144.6" y1="2516" x2="1144.6" y2="2535.5"/>
<line x1="1178.0" y1="2516" x2="1178.0" y2="2535.5"/>
<line x1="1211.3" y1="2516" x2="1211.3" y2="2535.5"/>
<line x1="1244.7" y1="2516" x2="1244.7" y2="2535.5"/>
<line x1="1278.0" y1="2516" x2="1278.0" y2="2550.5"/>
<line x1="1311.3" y1="2516" x2="1311.3" y2="2535.5"/>
<line x1="1344.7" y1="2516" x2="1344.7" y2="2535.5"/>
<line x1="1378.0" y1="2516" x2="1378.0" y2="2535.5"/>
<line x1="1411.4" y1="2516" x2="1411.4" y2="2535.5"/>
<line x1="1444.8" y1="2516" x2="1444.8" y2="2535.5"/>
<line x1="1478.1" y1="2516" x2="1478.1" y2="2535.5"/>
<line x1="1511.5" y1="2516" x2="1511.5" y2="2535.5"/>
<line x1="1544.8" y1="2516" x2="1544.8" y2="2535.5"/>
<line x1="1578.2" y1="2516" x2="1578.2" y2="2535.5"/>
<line x1="1611.5" y1="2516" x2="1611.5" y2="2550.5"/>
</g>
<g font-family="Liberation Sans, Arial, sans-serif" font-weight="bold" font-size="59" fill="#000">
<text x="367" y="1735.5" text-anchor="end">1.0</text>
<text x="367" y="1896.5" text-anchor="end">0.8</text>
<text x="367" y="2057.5" text-anchor="end">0.6</text>
<text x="367" y="2217.5" text-anchor="end">0.4</text>
<text x="367" y="2377.5" text-anchor="end">0.2</text>
<text x="367" y="2537.5" text-anchor="end">0.0</text>
<text x="610" y="2614.8" text-anchor="middle">250</text>
<text x="944.5" y="2614.8" text-anchor="middle">300</text>
<text x="1276.5" y="2614.8" text-anchor="middle">350</text>
<text x="1610.5" y="2614.8" text-anchor="middle">400</text>
</g>
<text x="147.5" y="2117" font-family="Liberation Sans, Arial, sans-serif" font-weight="bold" font-size="78" text-anchor="middle" transform="rotate(-90 147.5 2117)">Absorbance</text>
<text x="1011.3" y="2723.5" font-family="Liberation Sans, Arial, sans-serif" font-weight="bold" font-size="77" text-anchor="middle">Wavelength / nm</text>
<text x="1985.5" y="1828" font-family="Liberation Sans, Arial, sans-serif" font-weight="bold" font-size="94">b</text>
<g font-family="Liberation Sans, Arial, sans-serif" font-size="77.7" fill="#000">
<line x1="35" y1="2892" x2="120.5" y2="2892" stroke="#0000ff" stroke-width="3.5"/>
<text transform="translate(166 2917.5) scale(1 1.02)">BSA</text>
<line x1="437" y1="2895" x2="522" y2="2895" stroke="#00c800" stroke-width="3.5"/>
<text transform="translate(569 2924.5) scale(1 1.02)">ERL (12 <tspan dx="-3" font-family="Liberation Serif, Times New Roman, serif" textLength="50" lengthAdjust="spacingAndGlyphs">&#956;</tspan><tspan dx="0">M</tspan>)</text>
<line x1="1058" y1="2894" x2="1144" y2="2894" stroke="#ff8000" stroke-width="3.5"/>
<text transform="translate(1190 2924.5) scale(1 1.02)">QUR(12 <tspan dx="-3" font-family="Liberation Serif, Times New Roman, serif" textLength="50" lengthAdjust="spacingAndGlyphs">&#956;</tspan><tspan dx="0">M</tspan>)</text>
<line x1="35" y1="3013.6" x2="120.5" y2="3013.6" stroke="#ff0000" stroke-width="3.5"/>
<text transform="translate(167 3043.6) scale(1 1.02)">BSA (5 <tspan dx="-3" font-family="Liberation Serif, Times New Roman, serif" textLength="50" lengthAdjust="spacingAndGlyphs">&#956;</tspan><tspan dx="0">M</tspan>)-ERL(12 <tspan dx="-3" font-family="Liberation Serif, Times New Roman, serif" textLength="50" lengthAdjust="spacingAndGlyphs">&#956;</tspan><tspan dx="0">M</tspan>)</text>
<line x1="1058" y1="3015" x2="1144" y2="3015" stroke="#e600ff" stroke-width="3.5"/>
<text transform="translate(1190 3043.6) scale(1 1.02)">BSA(5 <tspan dx="-3" font-family="Liberation Serif, Times New Roman, serif" textLength="50" lengthAdjust="spacingAndGlyphs">&#956;</tspan><tspan dx="0">M</tspan>)-QUR(12 <tspan dx="-3" font-family="Liberation Serif, Times New Roman, serif" textLength="50" lengthAdjust="spacingAndGlyphs">&#956;</tspan><tspan dx="0">M</tspan>)</text>
<line x1="28" y1="3139.5" x2="113.5" y2="3139.5" stroke="#000000" stroke-width="3.5"/>
<text transform="translate(160 3168) scale(1 1.02)">BSA (5 <tspan dx="-3" font-family="Liberation Serif, Times New Roman, serif" textLength="50" lengthAdjust="spacingAndGlyphs">&#956;</tspan><tspan dx="0">M</tspan>)-QUR(12 <tspan dx="-3" font-family="Liberation Serif, Times New Roman, serif" textLength="50" lengthAdjust="spacingAndGlyphs">&#956;</tspan><tspan dx="0">M</tspan>)-ERL(12 <tspan dx="-3" font-family="Liberation Serif, Times New Roman, serif" textLength="50" lengthAdjust="spacingAndGlyphs">&#956;</tspan><tspan dx="0">M</tspan>)</text>
</g>
</svg>
</body></html>
